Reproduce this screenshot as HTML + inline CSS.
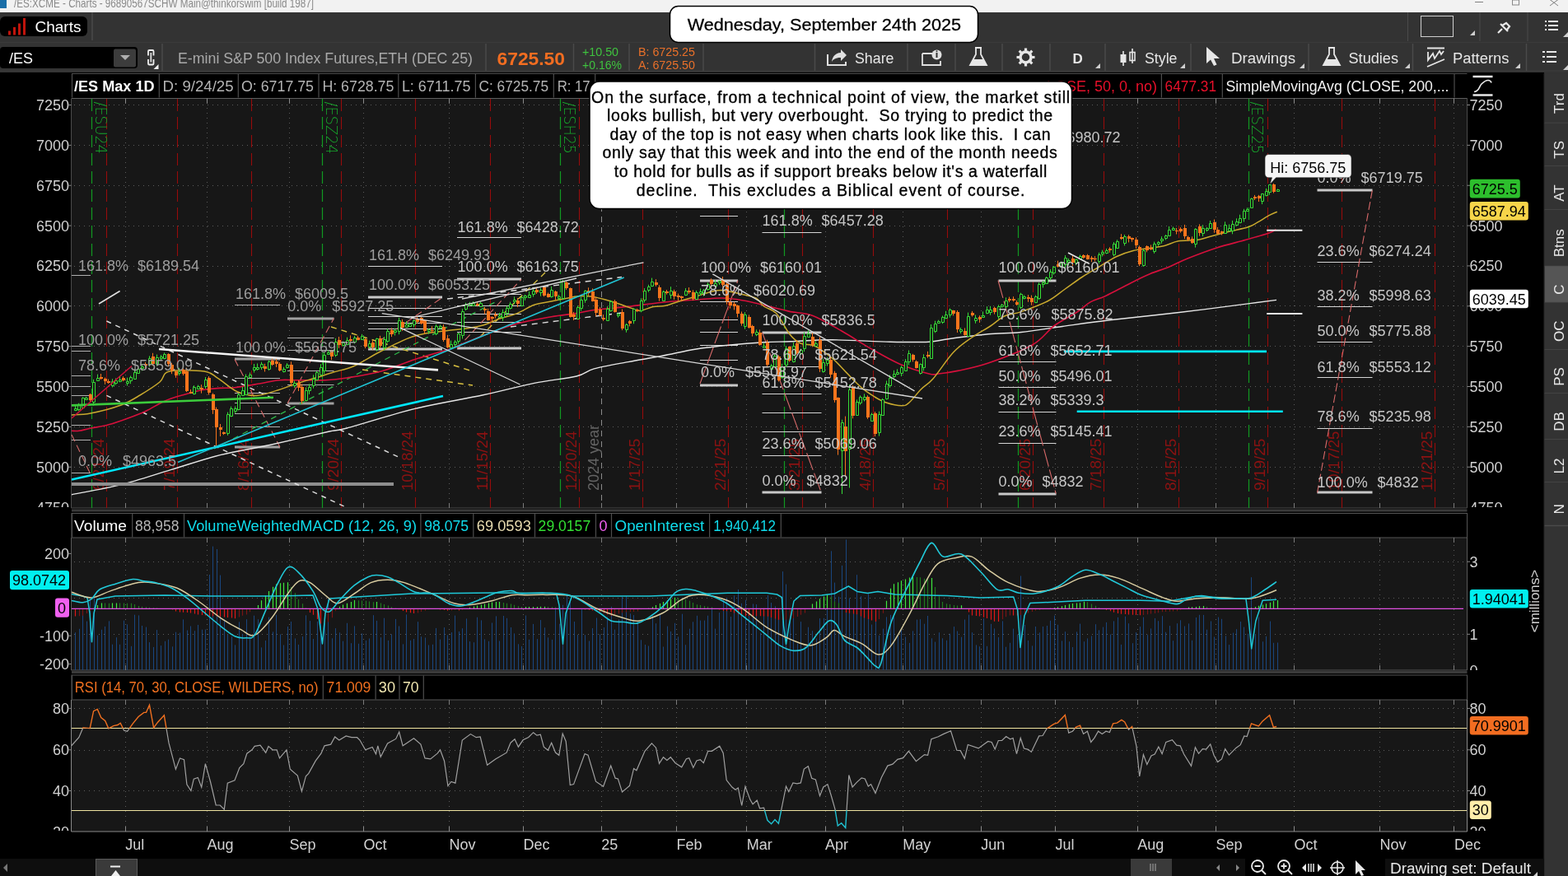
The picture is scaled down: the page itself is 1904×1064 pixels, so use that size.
<!DOCTYPE html>
<html><head><meta charset="utf-8"><title>thinkorswim chart</title>
<style>html,body{margin:0;padding:0;background:#333;overflow:hidden}svg{display:block}text{font-family:'Liberation Sans', Arial, sans-serif}</style>
</head><body>
<svg width="1904" height="1064" viewBox="0 0 1904 1064" font-family="'Liberation Sans', Arial, sans-serif">
<defs>
<clipPath id="cmain"><rect x="87" y="120" width="1694.5" height="497"/></clipPath>
<clipPath id="cmacd"><rect x="87" y="653" width="1694.5" height="161"/></clipPath>
<clipPath id="crsi"><rect x="87" y="850" width="1694.5" height="160"/></clipPath>
</defs>
<rect x="0" y="0" width="1904" height="1064" fill="#333333" />
<rect x="0" y="0" width="1904" height="15" fill="#f2f2f2" />
<rect x="0" y="0" width="8" height="10" fill="#1a6fa8" />
<text x="17" y="8.5" font-size="15" fill="#8a8a8a" textLength="364" lengthAdjust="spacingAndGlyphs" >/ES:XCME - Charts - 96890567SCHW Main@thinkorswim [build 1987]</text>
<line x1="1791" y1="2.5" x2="1801" y2="2.5" stroke="#808080" stroke-width="1" />
<rect x="1836.5" y="0" width="8" height="6" fill="none" stroke="#888" stroke-width="1"/>
<path d="M1882 -0.5 L1892 7 M1892 -0.5 L1882 7" stroke="#808080" stroke-width="1"/>
<rect x="0" y="15" width="1904" height="37" fill="#333333" />
<rect x="0" y="51" width="1904" height="1.2" fill="#3a3a3a" />
<rect x="0" y="52" width="1904" height="37" fill="#333333" />
<rect x="0" y="85" width="1904" height="2" fill="#383838" />
<rect x="0" y="20" width="106" height="24" rx="6" fill="#000"/>
<path d="M11.5 42.5 v-5 M17.5 42.5 v-9.5 M23.5 42.5 v-14 M29.5 42.5 v-20.5" stroke="#c0140c" stroke-width="3"/>
<text x="42.5" y="39" font-size="19" fill="#ffffff" >Charts</text>
<line x1="112" y1="15" x2="112" y2="49" stroke="#4a4a4a" stroke-width="1.5" />
<line x1="1709.5" y1="15" x2="1709.5" y2="50" stroke="#4a4a4a" stroke-width="1" />
<rect x="1725.5" y="19.5" width="39" height="25" fill="none" stroke="#cfcfcf" stroke-width="1"/>
<path d="M1785 43 L1791 37 L1791 43 Z" fill="#cfcfcf"/>
<line x1="1797" y1="15" x2="1797" y2="50" stroke="#4a4a4a" stroke-width="1" />
<path d="M1819 40 L1824 35 M1822 29 L1831 38 M1824 31 L1829 28 L1833 32 L1830 36" stroke="#e8e8e8" stroke-width="2.2" fill="none"/>
<line x1="1855" y1="15" x2="1855" y2="50" stroke="#4a4a4a" stroke-width="1" />
<path d="M1876 26h2 M1880 26h12 M1876 31h2 M1880 31h12 M1876 36h2 M1880 36h12" stroke="#e8e8e8" stroke-width="2"/>
<path d="M1898 45 L1904 39 L1904 45 Z" fill="#cfcfcf"/>
<rect x="0" y="57" width="167" height="26" rx="4" fill="#000"/>
<text x="11" y="77" font-size="18" fill="#ffffff" >/ES</text>
<rect x="138" y="59.5" width="27" height="22" rx="2" fill="#3c3c3c"/>
<path d="M146 67 L158 67 L152 73 Z" fill="#b0b0b0"/>
<path d="M180 67.5 V62.3 Q180 61 181.3 61 H185.2 Q186.5 61 186.5 62.3 V67.5 M180 72 V77.2 Q180 78.5 181.3 78.5 H185.2 Q186.5 78.5 186.5 77.2 V72" fill="none" stroke="#f0f0f0" stroke-width="1.8"/><path d="M183.3 64 V75.5" stroke="#e0e0e0" stroke-width="1.8"/>
<path d="M186.5 84 L192.5 78 L192.5 84 Z" fill="#f0f0f0"/>
<line x1="197" y1="53" x2="197" y2="86" stroke="#4a4a4a" stroke-width="1.5" />
<text x="216" y="77" font-size="18" fill="#a9a9a9" textLength="358" lengthAdjust="spacingAndGlyphs" >E-mini S&amp;P 500 Index Futures,ETH (DEC 25)</text>
<line x1="590" y1="53" x2="590" y2="86" stroke="#4a4a4a" stroke-width="1.5" />
<text x="603.5" y="78.5" font-size="22.5" fill="#f26d21" font-weight="bold" textLength="82.5" lengthAdjust="spacingAndGlyphs" >6725.50</text>
<line x1="696.5" y1="53" x2="696.5" y2="86" stroke="#4a4a4a" stroke-width="1.5" />
<text x="707" y="68" font-size="14.5" fill="#3fc23f" textLength="44" lengthAdjust="spacingAndGlyphs" >+10.50</text>
<text x="707" y="83.5" font-size="14.5" fill="#3fc23f" textLength="48" lengthAdjust="spacingAndGlyphs" >+0.16%</text>
<line x1="764" y1="53" x2="764" y2="86" stroke="#4a4a4a" stroke-width="1.5" />
<text x="775" y="68" font-size="14.5" fill="#e8702a" textLength="69" lengthAdjust="spacingAndGlyphs" >B: 6725.25</text>
<text x="775" y="83.5" font-size="14.5" fill="#e8702a" textLength="69" lengthAdjust="spacingAndGlyphs" >A: 6725.50</text>
<line x1="854" y1="53" x2="854" y2="86" stroke="#4a4a4a" stroke-width="1.5" />
<line x1="989.5" y1="53" x2="989.5" y2="86" stroke="#4a4a4a" stroke-width="1.5" />
<path d="M1005 66 v13 h22 v-4" fill="none" stroke="#e0e0e0" stroke-width="2"/>
<path d="M1010 75 C1011 67 1016 64 1021 64 v-4 l7 7 l-7 7 v-4 C1016 70 1012 71 1010 75 Z" fill="#e0e0e0"/>
<text x="1038" y="77" font-size="18" fill="#e6e6e6" textLength="47.5" lengthAdjust="spacingAndGlyphs" >Share</text>
<line x1="1102" y1="53" x2="1102" y2="86" stroke="#4a4a4a" stroke-width="1.5" />
<path d="M1120 65 h14 M1120 65 v14 h22 v-5" fill="none" stroke="#e0e0e0" stroke-width="1.8"/>
<circle cx="1137.5" cy="66.5" r="6" fill="#e0e0e0"/><path d="M1137.5 64 v6" stroke="#333" stroke-width="2"/><circle cx="1137.5" cy="62.3" r="1" fill="#333"/>
<line x1="1160" y1="53" x2="1160" y2="86" stroke="#4a4a4a" stroke-width="1.5" />
<path d="M1184 58 h8 M1185 58 v8 L1178 79 h20 L1191 66 v-8" fill="none" stroke="#e6e6e6" stroke-width="1.8"/><path d="M1181.5 72 L1178 80 h20 L1194.5 72 Z" fill="#e6e6e6"/>
<line x1="1217" y1="53" x2="1217" y2="86" stroke="#4a4a4a" stroke-width="1.5" />
<path d="M1251.5 69.5 L1256.5 69.5 M1249.7 73.7 L1253.3 77.3 M1245.5 75.5 L1245.5 80.5 M1241.3 73.7 L1237.7 77.3 M1239.5 69.5 L1234.5 69.5 M1241.3 65.3 L1237.7 61.7 M1245.5 63.5 L1245.5 58.5 M1249.7 65.3 L1253.3 61.7" stroke="#e6e6e6" stroke-width="3.2"/>
<circle cx="1245.5" cy="69.5" r="6.5" fill="none" stroke="#e6e6e6" stroke-width="3.5"/>
<line x1="1275" y1="53" x2="1275" y2="86" stroke="#4a4a4a" stroke-width="1.5" />
<text x="1302.5" y="76.5" font-size="17" fill="#e6e6e6" font-weight="bold" >D</text>
<path d="M1330 83 L1336 77 L1336 83 Z" fill="#cfcfcf"/>
<line x1="1342" y1="53" x2="1342" y2="86" stroke="#4a4a4a" stroke-width="1.5" />
<path d="M1364 62 v18 M1375 59 v18" stroke="#e6e6e6" stroke-width="1.6"/><rect x="1360.5" y="66" width="7" height="10" fill="#e6e6e6"/><rect x="1372" y="63.5" width="6" height="10" fill="none" stroke="#e6e6e6" stroke-width="1.6"/>
<text x="1390" y="77" font-size="18" fill="#e6e6e6" textLength="39.5" lengthAdjust="spacingAndGlyphs" >Style</text>
<path d="M1433 83 L1439 77 L1439 83 Z" fill="#cfcfcf"/>
<line x1="1446" y1="53" x2="1446" y2="86" stroke="#4a4a4a" stroke-width="1.5" />
<path d="M1465 57 L1465 77 L1470 72.5 L1474 80 L1477.5 78.5 L1474 71 L1481 71 Z" fill="#e6e6e6"/>
<text x="1495" y="77" font-size="18" fill="#e6e6e6" textLength="78" lengthAdjust="spacingAndGlyphs" >Drawings</text>
<path d="M1578 83 L1584 77 L1584 83 Z" fill="#cfcfcf"/>
<line x1="1589" y1="53" x2="1589" y2="86" stroke="#4a4a4a" stroke-width="1.5" />
<path d="M1613 58 h8 M1614 58 v8 L1607 79 h20 L1620 66 v-8" fill="none" stroke="#e6e6e6" stroke-width="1.8"/><path d="M1610.5 72 L1607 80 h20 L1623.5 72 Z" fill="#e6e6e6"/>
<text x="1637.5" y="77" font-size="18" fill="#e6e6e6" textLength="60.5" lengthAdjust="spacingAndGlyphs" >Studies</text>
<path d="M1706 83 L1712 77 L1712 83 Z" fill="#cfcfcf"/>
<line x1="1715.5" y1="53" x2="1715.5" y2="86" stroke="#4a4a4a" stroke-width="1.5" />
<path d="M1733 58.5 h21 M1734 63 v10 l6 -8 l2 6 l6 -9 l2 4 l3 -4 M1733 81 l21 -9" fill="none" stroke="#e6e6e6" stroke-width="1.8"/>
<text x="1764" y="77" font-size="18" fill="#e6e6e6" textLength="68.5" lengthAdjust="spacingAndGlyphs" >Patterns</text>
<path d="M1840 83 L1846 77 L1846 83 Z" fill="#cfcfcf"/>
<line x1="1853.5" y1="53" x2="1853.5" y2="86" stroke="#4a4a4a" stroke-width="1.5" />
<path d="M1873 63h3 M1878 63h12 M1873 69h3 M1878 69h12 M1873 75h3 M1878 75h12" stroke="#e8e8e8" stroke-width="2"/>
<path d="M1898 85 L1904 79 L1904 85 Z" fill="#cfcfcf"/>
<rect x="0" y="88" width="1875" height="976" fill="#000000" />
<rect x="1875" y="88" width="29" height="976" fill="#333333" />
<rect x="1875.5" y="89.5" width="29" height="60.0" fill="#333333" />
<line x1="1875" y1="149.5" x2="1904" y2="149.5" stroke="#4a4a4a" stroke-width="1.5" />
<text x="1898.5" y="125.5" font-size="17" fill="#e8e8e8" text-anchor="middle" transform="rotate(-90 1898.5 125.5)">Trd</text>
<rect x="1875.5" y="149.5" width="29" height="52.5" fill="#333333" />
<line x1="1875" y1="202" x2="1904" y2="202" stroke="#4a4a4a" stroke-width="1.5" />
<text x="1898.5" y="181.75" font-size="17" fill="#e8e8e8" text-anchor="middle" transform="rotate(-90 1898.5 181.75)">TS</text>
<rect x="1875.5" y="202" width="29" height="53" fill="#333333" />
<line x1="1875" y1="255" x2="1904" y2="255" stroke="#4a4a4a" stroke-width="1.5" />
<text x="1898.5" y="234.5" font-size="17" fill="#e8e8e8" text-anchor="middle" transform="rotate(-90 1898.5 234.5)">AT</text>
<rect x="1875.5" y="255" width="29" height="68.5" fill="#333333" />
<line x1="1875" y1="323.5" x2="1904" y2="323.5" stroke="#4a4a4a" stroke-width="1.5" />
<text x="1898.5" y="295.25" font-size="17" fill="#e8e8e8" text-anchor="middle" transform="rotate(-90 1898.5 295.25)">Btns</text>
<rect x="1875.5" y="323.5" width="29" height="44.0" fill="#555555" />
<line x1="1875" y1="367.5" x2="1904" y2="367.5" stroke="#4a4a4a" stroke-width="1.5" />
<text x="1898.5" y="351.5" font-size="17" fill="#e8e8e8" text-anchor="middle" transform="rotate(-90 1898.5 351.5)">C</text>
<rect x="1875.5" y="367.5" width="29" height="57.5" fill="#333333" />
<line x1="1875" y1="425" x2="1904" y2="425" stroke="#4a4a4a" stroke-width="1.5" />
<text x="1898.5" y="402.25" font-size="17" fill="#e8e8e8" text-anchor="middle" transform="rotate(-90 1898.5 402.25)">OC</text>
<rect x="1875.5" y="425" width="29" height="53" fill="#333333" />
<line x1="1875" y1="478" x2="1904" y2="478" stroke="#4a4a4a" stroke-width="1.5" />
<text x="1898.5" y="457.5" font-size="17" fill="#e8e8e8" text-anchor="middle" transform="rotate(-90 1898.5 457.5)">PS</text>
<rect x="1875.5" y="478" width="29" height="56" fill="#333333" />
<line x1="1875" y1="534" x2="1904" y2="534" stroke="#4a4a4a" stroke-width="1.5" />
<text x="1898.5" y="512.0" font-size="17" fill="#e8e8e8" text-anchor="middle" transform="rotate(-90 1898.5 512.0)">DB</text>
<rect x="1875.5" y="534" width="29" height="52" fill="#333333" />
<line x1="1875" y1="586" x2="1904" y2="586" stroke="#4a4a4a" stroke-width="1.5" />
<text x="1898.5" y="566.0" font-size="17" fill="#e8e8e8" text-anchor="middle" transform="rotate(-90 1898.5 566.0)">L2</text>
<rect x="1875.5" y="586" width="29" height="52.5" fill="#333333" />
<line x1="1875" y1="638.5" x2="1904" y2="638.5" stroke="#4a4a4a" stroke-width="1.5" />
<text x="1898.5" y="618.25" font-size="17" fill="#e8e8e8" text-anchor="middle" transform="rotate(-90 1898.5 618.25)">N</text>
<line x1="1875" y1="89" x2="1875" y2="1064" stroke="#262626" stroke-width="1" />
<rect x="87" y="119.5" width="1694.5" height="497.5" fill="#171717" />
<rect x="87" y="653" width="1694.5" height="161" fill="#171717" />
<rect x="87" y="850" width="1694.5" height="160" fill="#171717" />
<path d="M86.5 119.5 V617 H1781.5 V119.5" fill="none" stroke="#4b4b4b" stroke-width="1"/>
<line x1="87" y1="119.5" x2="1781.5" y2="119.5" stroke="#5e5e5e" stroke-width="1" />
<rect x="87" y="618.5" width="1694.5" height="3" fill="#3a3a3a" />
<rect x="87" y="815" width="1694.5" height="3" fill="#3a3a3a" />
<rect x="87" y="623.5" width="1694.5" height="29.5" fill="#000" />
<rect x="87" y="623.5" width="1694.5" height="29.5" fill="none" stroke="#555" stroke-width="1"/>
<rect x="87" y="820" width="1694.5" height="30" fill="#000" />
<rect x="87" y="820" width="1694.5" height="30" fill="none" stroke="#555" stroke-width="1"/>
<path d="M86.5 653 V814 H1781.5 V653" fill="none" stroke="#5a5a5a" stroke-width="1"/>
<path d="M86.5 850 V1010 H1781.5 V850" fill="none" stroke="#8a8a8a" stroke-width="1"/>
<rect x="87" y="89.5" width="1694.5" height="29.5" fill="#000" />
<line x1="87.5" y1="89.5" x2="87.5" y2="118.5" stroke="#4d4d4d" stroke-width="1.2" />
<line x1="193.3" y1="89.5" x2="193.3" y2="118.5" stroke="#4d4d4d" stroke-width="1.2" />
<line x1="289.3" y1="89.5" x2="289.3" y2="118.5" stroke="#4d4d4d" stroke-width="1.2" />
<line x1="387" y1="89.5" x2="387" y2="118.5" stroke="#4d4d4d" stroke-width="1.2" />
<line x1="483.8" y1="89.5" x2="483.8" y2="118.5" stroke="#4d4d4d" stroke-width="1.2" />
<line x1="577.4" y1="89.5" x2="577.4" y2="118.5" stroke="#4d4d4d" stroke-width="1.2" />
<line x1="672.3" y1="89.5" x2="672.3" y2="118.5" stroke="#4d4d4d" stroke-width="1.2" />
<line x1="722.7" y1="89.5" x2="722.7" y2="118.5" stroke="#4d4d4d" stroke-width="1.2" />
<line x1="1410.4" y1="89.5" x2="1410.4" y2="118.5" stroke="#4d4d4d" stroke-width="1.2" />
<line x1="1484.3" y1="89.5" x2="1484.3" y2="118.5" stroke="#4d4d4d" stroke-width="1.2" />
<line x1="1766" y1="89.5" x2="1766" y2="118.5" stroke="#4d4d4d" stroke-width="1.2" />
<line x1="87" y1="89.5" x2="1781.5" y2="89.5" stroke="#4d4d4d" stroke-width="1" />
<text x="90" y="110.5" font-size="18" fill="#ffffff" font-weight="bold" textLength="97.5" lengthAdjust="spacingAndGlyphs" >/ES Max 1D</text>
<text x="197.6" y="110.5" font-size="18" fill="#b4b4b4" textLength="86" lengthAdjust="spacingAndGlyphs" >D: 9/24/25</text>
<text x="293" y="110.5" font-size="18" fill="#b4b4b4" textLength="88" lengthAdjust="spacingAndGlyphs" >O: 6717.75</text>
<text x="391.4" y="110.5" font-size="18" fill="#b4b4b4" textLength="87" lengthAdjust="spacingAndGlyphs" >H: 6728.75</text>
<text x="487.9" y="110.5" font-size="18" fill="#b4b4b4" textLength="83.5" lengthAdjust="spacingAndGlyphs" >L: 6711.75</text>
<text x="581.5" y="110.5" font-size="18" fill="#b4b4b4" textLength="84.5" lengthAdjust="spacingAndGlyphs" >C: 6725.75</text>
<text x="676.7" y="110.5" font-size="18" fill="#b4b4b4" textLength="40" lengthAdjust="spacingAndGlyphs" >R: 17</text>
<text x="1405" y="110.5" font-size="18" fill="#e8102a" text-anchor="end" >LOSE, 50, 0, no)</text>
<text x="1414.6" y="110.5" font-size="18" fill="#e8102a" textLength="62.5" lengthAdjust="spacingAndGlyphs" >6477.31</text>
<text x="1488.5" y="110.5" font-size="18" fill="#f2f2f2" textLength="271" lengthAdjust="spacingAndGlyphs" >SimpleMovingAvg (CLOSE, 200,...</text>
<path d="M1788.5 93 h24 M1788.5 115.5 h24" stroke="#e8e8e8" stroke-width="2.6"/><path d="M1790 111.5 C1796 111.5 1796 105 1799 102 C1802 99 1804 97.5 1807 97.5 C1809 97.5 1810.5 99 1811 100.5" fill="none" stroke="#e8e8e8" stroke-width="1.7"/>
<line x1="90" y1="127.5" x2="1781" y2="127.5" stroke="#5c5c5c" stroke-width="1" stroke-dasharray="1 5"/>
<line x1="90" y1="176.5" x2="1781" y2="176.5" stroke="#5c5c5c" stroke-width="1" stroke-dasharray="1 5"/>
<line x1="90" y1="225.5" x2="1781" y2="225.5" stroke="#5c5c5c" stroke-width="1" stroke-dasharray="1 5"/>
<line x1="90" y1="274.5" x2="1781" y2="274.5" stroke="#5c5c5c" stroke-width="1" stroke-dasharray="1 5"/>
<line x1="90" y1="323.5" x2="1781" y2="323.5" stroke="#5c5c5c" stroke-width="1" stroke-dasharray="1 5"/>
<line x1="90" y1="371.5" x2="1781" y2="371.5" stroke="#5c5c5c" stroke-width="1" stroke-dasharray="1 5"/>
<line x1="90" y1="420.5" x2="1781" y2="420.5" stroke="#5c5c5c" stroke-width="1" stroke-dasharray="1 5"/>
<line x1="90" y1="469.5" x2="1781" y2="469.5" stroke="#5c5c5c" stroke-width="1" stroke-dasharray="1 5"/>
<line x1="90" y1="518.5" x2="1781" y2="518.5" stroke="#5c5c5c" stroke-width="1" stroke-dasharray="1 5"/>
<line x1="90" y1="567.5" x2="1781" y2="567.5" stroke="#5c5c5c" stroke-width="1" stroke-dasharray="1 5"/>
<line x1="152.5" y1="125" x2="152.5" y2="617" stroke="#5c5c5c" stroke-width="1" stroke-dasharray="1 5"/>
<line x1="152.5" y1="119.5" x2="152.5" y2="125.5" stroke="#8a8a8a" stroke-width="1" />
<line x1="251.5" y1="125" x2="251.5" y2="617" stroke="#5c5c5c" stroke-width="1" stroke-dasharray="1 5"/>
<line x1="251.5" y1="119.5" x2="251.5" y2="125.5" stroke="#8a8a8a" stroke-width="1" />
<line x1="351.5" y1="125" x2="351.5" y2="617" stroke="#5c5c5c" stroke-width="1" stroke-dasharray="1 5"/>
<line x1="351.5" y1="119.5" x2="351.5" y2="125.5" stroke="#8a8a8a" stroke-width="1" />
<line x1="441.5" y1="125" x2="441.5" y2="617" stroke="#5c5c5c" stroke-width="1" stroke-dasharray="1 5"/>
<line x1="441.5" y1="119.5" x2="441.5" y2="125.5" stroke="#8a8a8a" stroke-width="1" />
<line x1="545.5" y1="125" x2="545.5" y2="617" stroke="#5c5c5c" stroke-width="1" stroke-dasharray="1 5"/>
<line x1="545.5" y1="119.5" x2="545.5" y2="125.5" stroke="#8a8a8a" stroke-width="1" />
<line x1="635.5" y1="125" x2="635.5" y2="617" stroke="#5c5c5c" stroke-width="1" stroke-dasharray="1 5"/>
<line x1="635.5" y1="119.5" x2="635.5" y2="125.5" stroke="#8a8a8a" stroke-width="1" />
<line x1="730.5" y1="120" x2="730.5" y2="617" stroke="#8a8a8a" stroke-width="1" stroke-dasharray="7 6"/>
<line x1="730.5" y1="119.5" x2="730.5" y2="125.5" stroke="#8a8a8a" stroke-width="1" />
<line x1="821.5" y1="125" x2="821.5" y2="617" stroke="#5c5c5c" stroke-width="1" stroke-dasharray="1 5"/>
<line x1="821.5" y1="119.5" x2="821.5" y2="125.5" stroke="#8a8a8a" stroke-width="1" />
<line x1="906.5" y1="125" x2="906.5" y2="617" stroke="#5c5c5c" stroke-width="1" stroke-dasharray="1 5"/>
<line x1="906.5" y1="119.5" x2="906.5" y2="125.5" stroke="#8a8a8a" stroke-width="1" />
<line x1="1002.5" y1="125" x2="1002.5" y2="617" stroke="#5c5c5c" stroke-width="1" stroke-dasharray="1 5"/>
<line x1="1002.5" y1="119.5" x2="1002.5" y2="125.5" stroke="#8a8a8a" stroke-width="1" />
<line x1="1096.5" y1="125" x2="1096.5" y2="617" stroke="#5c5c5c" stroke-width="1" stroke-dasharray="1 5"/>
<line x1="1096.5" y1="119.5" x2="1096.5" y2="125.5" stroke="#8a8a8a" stroke-width="1" />
<line x1="1191.5" y1="125" x2="1191.5" y2="617" stroke="#5c5c5c" stroke-width="1" stroke-dasharray="1 5"/>
<line x1="1191.5" y1="119.5" x2="1191.5" y2="125.5" stroke="#8a8a8a" stroke-width="1" />
<line x1="1281.5" y1="125" x2="1281.5" y2="617" stroke="#5c5c5c" stroke-width="1" stroke-dasharray="1 5"/>
<line x1="1281.5" y1="119.5" x2="1281.5" y2="125.5" stroke="#8a8a8a" stroke-width="1" />
<line x1="1381.5" y1="125" x2="1381.5" y2="617" stroke="#5c5c5c" stroke-width="1" stroke-dasharray="1 5"/>
<line x1="1381.5" y1="119.5" x2="1381.5" y2="125.5" stroke="#8a8a8a" stroke-width="1" />
<line x1="1476.5" y1="125" x2="1476.5" y2="617" stroke="#5c5c5c" stroke-width="1" stroke-dasharray="1 5"/>
<line x1="1476.5" y1="119.5" x2="1476.5" y2="125.5" stroke="#8a8a8a" stroke-width="1" />
<line x1="1571.5" y1="125" x2="1571.5" y2="617" stroke="#5c5c5c" stroke-width="1" stroke-dasharray="1 5"/>
<line x1="1571.5" y1="119.5" x2="1571.5" y2="125.5" stroke="#8a8a8a" stroke-width="1" />
<line x1="1675.5" y1="125" x2="1675.5" y2="617" stroke="#5c5c5c" stroke-width="1" stroke-dasharray="1 5"/>
<line x1="1675.5" y1="119.5" x2="1675.5" y2="125.5" stroke="#8a8a8a" stroke-width="1" />
<line x1="1765.5" y1="125" x2="1765.5" y2="617" stroke="#5c5c5c" stroke-width="1" stroke-dasharray="1 5"/>
<line x1="1765.5" y1="119.5" x2="1765.5" y2="125.5" stroke="#8a8a8a" stroke-width="1" />
<line x1="129.5" y1="120" x2="129.5" y2="617" stroke="#960c0c" stroke-width="1.1" stroke-dasharray="15 7"/>
<line x1="215.5" y1="120" x2="215.5" y2="617" stroke="#960c0c" stroke-width="1.1" stroke-dasharray="15 7"/>
<line x1="305.5" y1="120" x2="305.5" y2="617" stroke="#960c0c" stroke-width="1.1" stroke-dasharray="15 7"/>
<line x1="414.5" y1="120" x2="414.5" y2="617" stroke="#960c0c" stroke-width="1.1" stroke-dasharray="15 7"/>
<line x1="504.5" y1="120" x2="504.5" y2="617" stroke="#960c0c" stroke-width="1.1" stroke-dasharray="15 7"/>
<line x1="595.5" y1="120" x2="595.5" y2="617" stroke="#960c0c" stroke-width="1.1" stroke-dasharray="15 7"/>
<line x1="703.5" y1="120" x2="703.5" y2="617" stroke="#960c0c" stroke-width="1.1" stroke-dasharray="15 7"/>
<line x1="780.5" y1="120" x2="780.5" y2="617" stroke="#960c0c" stroke-width="1.1" stroke-dasharray="15 7"/>
<line x1="884.5" y1="120" x2="884.5" y2="617" stroke="#960c0c" stroke-width="1.1" stroke-dasharray="15 7"/>
<line x1="974.5" y1="120" x2="974.5" y2="617" stroke="#960c0c" stroke-width="1.1" stroke-dasharray="15 7"/>
<line x1="1060.5" y1="120" x2="1060.5" y2="617" stroke="#960c0c" stroke-width="1.1" stroke-dasharray="15 7"/>
<line x1="1150.5" y1="120" x2="1150.5" y2="617" stroke="#960c0c" stroke-width="1.1" stroke-dasharray="15 7"/>
<line x1="1254.5" y1="120" x2="1254.5" y2="617" stroke="#960c0c" stroke-width="1.1" stroke-dasharray="15 7"/>
<line x1="1340.5" y1="120" x2="1340.5" y2="617" stroke="#960c0c" stroke-width="1.1" stroke-dasharray="15 7"/>
<line x1="1431.5" y1="120" x2="1431.5" y2="617" stroke="#960c0c" stroke-width="1.1" stroke-dasharray="15 7"/>
<line x1="1539.5" y1="120" x2="1539.5" y2="617" stroke="#960c0c" stroke-width="1.1" stroke-dasharray="15 7"/>
<line x1="1629.5" y1="120" x2="1629.5" y2="617" stroke="#960c0c" stroke-width="1.1" stroke-dasharray="15 7"/>
<line x1="1742.5" y1="120" x2="1742.5" y2="617" stroke="#960c0c" stroke-width="1.1" stroke-dasharray="15 7"/>
<line x1="111.5" y1="120" x2="111.5" y2="617" stroke="#129a22" stroke-width="1.2" stroke-dasharray="15 7"/>
<line x1="391.5" y1="120" x2="391.5" y2="617" stroke="#129a22" stroke-width="1.2" stroke-dasharray="15 7"/>
<line x1="680.5" y1="120" x2="680.5" y2="617" stroke="#129a22" stroke-width="1.2" stroke-dasharray="15 7"/>
<line x1="952.5" y1="120" x2="952.5" y2="617" stroke="#129a22" stroke-width="1.2" stroke-dasharray="15 7"/>
<line x1="1236.5" y1="120" x2="1236.5" y2="617" stroke="#129a22" stroke-width="1.2" stroke-dasharray="15 7"/>
<line x1="1516.5" y1="120" x2="1516.5" y2="617" stroke="#129a22" stroke-width="1.2" stroke-dasharray="15 7"/>
<text x="125.5" y="596" font-size="19" fill="#8c1212" textLength="63.35000000000001" lengthAdjust="spacingAndGlyphs" transform="rotate(-90 125.5 596)">6/21/24</text>
<text x="211.5" y="596" font-size="19" fill="#8c1212" textLength="63.35000000000001" lengthAdjust="spacingAndGlyphs" transform="rotate(-90 211.5 596)">7/19/24</text>
<text x="301.5" y="596" font-size="19" fill="#8c1212" textLength="63.35000000000001" lengthAdjust="spacingAndGlyphs" transform="rotate(-90 301.5 596)">8/16/24</text>
<text x="410.5" y="596" font-size="19" fill="#8c1212" textLength="63.35000000000001" lengthAdjust="spacingAndGlyphs" transform="rotate(-90 410.5 596)">9/20/24</text>
<text x="500.5" y="596" font-size="19" fill="#8c1212" textLength="72.4" lengthAdjust="spacingAndGlyphs" transform="rotate(-90 500.5 596)">10/18/24</text>
<text x="591.5" y="596" font-size="19" fill="#8c1212" textLength="72.4" lengthAdjust="spacingAndGlyphs" transform="rotate(-90 591.5 596)">11/15/24</text>
<text x="699.5" y="596" font-size="19" fill="#8c1212" textLength="72.4" lengthAdjust="spacingAndGlyphs" transform="rotate(-90 699.5 596)">12/20/24</text>
<text x="776.5" y="596" font-size="19" fill="#8c1212" textLength="63.35000000000001" lengthAdjust="spacingAndGlyphs" transform="rotate(-90 776.5 596)">1/17/25</text>
<text x="880.5" y="596" font-size="19" fill="#8c1212" textLength="63.35000000000001" lengthAdjust="spacingAndGlyphs" transform="rotate(-90 880.5 596)">2/21/25</text>
<text x="970.5" y="596" font-size="19" fill="#8c1212" textLength="63.35000000000001" lengthAdjust="spacingAndGlyphs" transform="rotate(-90 970.5 596)">3/21/25</text>
<text x="1056.5" y="596" font-size="19" fill="#8c1212" textLength="63.35000000000001" lengthAdjust="spacingAndGlyphs" transform="rotate(-90 1056.5 596)">4/18/25</text>
<text x="1146.5" y="596" font-size="19" fill="#8c1212" textLength="63.35000000000001" lengthAdjust="spacingAndGlyphs" transform="rotate(-90 1146.5 596)">5/16/25</text>
<text x="1250.5" y="596" font-size="19" fill="#8c1212" textLength="63.35000000000001" lengthAdjust="spacingAndGlyphs" transform="rotate(-90 1250.5 596)">6/20/25</text>
<text x="1336.5" y="596" font-size="19" fill="#8c1212" textLength="63.35000000000001" lengthAdjust="spacingAndGlyphs" transform="rotate(-90 1336.5 596)">7/18/25</text>
<text x="1427.5" y="596" font-size="19" fill="#8c1212" textLength="63.35000000000001" lengthAdjust="spacingAndGlyphs" transform="rotate(-90 1427.5 596)">8/15/25</text>
<text x="1535.5" y="596" font-size="19" fill="#8c1212" textLength="63.35000000000001" lengthAdjust="spacingAndGlyphs" transform="rotate(-90 1535.5 596)">9/19/25</text>
<text x="1625.5" y="596" font-size="19" fill="#8c1212" textLength="72.4" lengthAdjust="spacingAndGlyphs" transform="rotate(-90 1625.5 596)">10/17/25</text>
<text x="1738.5" y="596" font-size="19" fill="#8c1212" textLength="72.4" lengthAdjust="spacingAndGlyphs" transform="rotate(-90 1738.5 596)">11/21/25</text>
<text x="726.5" y="596" font-size="18.5" fill="#646464" textLength="80" lengthAdjust="spacingAndGlyphs" transform="rotate(-90 726.5 596)">2024 year</text>
<text x="115.5" y="123.5" font-size="19" fill="#17a82c" font-weight="200" textLength="63.5" lengthAdjust="spacingAndGlyphs" style="font-family:'DejaVu Sans', sans-serif" transform="rotate(90 115.5 123.5)">/ESU24</text>
<text x="395.5" y="123.5" font-size="19" fill="#17a82c" font-weight="200" textLength="63.5" lengthAdjust="spacingAndGlyphs" style="font-family:'DejaVu Sans', sans-serif" transform="rotate(90 395.5 123.5)">/ESZ24</text>
<text x="684.5" y="123.5" font-size="19" fill="#17a82c" font-weight="200" textLength="63.5" lengthAdjust="spacingAndGlyphs" style="font-family:'DejaVu Sans', sans-serif" transform="rotate(90 684.5 123.5)">/ESH25</text>
<text x="955.5" y="123.5" font-size="19" fill="#17a82c" font-weight="200" textLength="63.5" lengthAdjust="spacingAndGlyphs" style="font-family:'DejaVu Sans', sans-serif" transform="rotate(90 955.5 123.5)">/ESM25</text>
<text x="1239.5" y="123.5" font-size="19" fill="#17a82c" font-weight="200" textLength="63.5" lengthAdjust="spacingAndGlyphs" style="font-family:'DejaVu Sans', sans-serif" transform="rotate(90 1239.5 123.5)">/ESU25</text>
<text x="1519.5" y="123.5" font-size="19" fill="#17a82c" font-weight="200" textLength="63.5" lengthAdjust="spacingAndGlyphs" style="font-family:'DejaVu Sans', sans-serif" transform="rotate(90 1519.5 123.5)">/ESZ25</text>
<line x1="87" y1="334.5" x2="110" y2="334.5" stroke="#b0b0b0" stroke-width="1" />
<line x1="87" y1="420.5" x2="110" y2="420.5" stroke="#b0b0b0" stroke-width="1" />
<line x1="87" y1="426.5" x2="110" y2="426.5" stroke="#b0b0b0" stroke-width="1" />
<line x1="87" y1="456.5" x2="110" y2="456.5" stroke="#b0b0b0" stroke-width="1" />
<line x1="87" y1="469.5" x2="110" y2="469.5" stroke="#b0b0b0" stroke-width="1" />
<line x1="87" y1="480.5" x2="110" y2="480.5" stroke="#b0b0b0" stroke-width="1" />
<line x1="87" y1="516.5" x2="110" y2="516.5" stroke="#b0b0b0" stroke-width="1" />
<line x1="87" y1="534.5" x2="110" y2="534.5" stroke="#b0b0b0" stroke-width="1" />
<line x1="87" y1="574.5" x2="110" y2="574.5" stroke="#b0b0b0" stroke-width="1" />
<line x1="285" y1="370.5" x2="340" y2="370.5" stroke="#b0b0b0" stroke-width="1" />
<line x1="285" y1="436" x2="340" y2="436" stroke="#a0a0a0" stroke-width="3" />
<line x1="285" y1="459.5" x2="340" y2="459.5" stroke="#b0b0b0" stroke-width="1" />
<line x1="285" y1="477.5" x2="340" y2="477.5" stroke="#b0b0b0" stroke-width="1" />
<line x1="285" y1="489.5" x2="340" y2="489.5" stroke="#b0b0b0" stroke-width="1" />
<line x1="285" y1="502.5" x2="340" y2="502.5" stroke="#b0b0b0" stroke-width="1" />
<line x1="285" y1="518.5" x2="340" y2="518.5" stroke="#b0b0b0" stroke-width="1" />
<line x1="285" y1="543" x2="340" y2="543" stroke="#a0a0a0" stroke-width="3" />
<line x1="349" y1="387" x2="405.5" y2="387" stroke="#a0a0a0" stroke-width="3" />
<line x1="349" y1="410.5" x2="405.5" y2="410.5" stroke="#b0b0b0" stroke-width="1" />
<line x1="349" y1="425.5" x2="405.5" y2="425.5" stroke="#b0b0b0" stroke-width="1" />
<line x1="349" y1="450.5" x2="405.5" y2="450.5" stroke="#b0b0b0" stroke-width="1" />
<line x1="349" y1="467.5" x2="405.5" y2="467.5" stroke="#b0b0b0" stroke-width="1" />
<line x1="349" y1="490" x2="405.5" y2="490" stroke="#a0a0a0" stroke-width="3" />
<line x1="447" y1="323.5" x2="537" y2="323.5" stroke="#d4d4d4" stroke-width="1" />
<line x1="447" y1="361" x2="537" y2="361" stroke="#c8c8c8" stroke-width="3" />
<line x1="447" y1="374.5" x2="537" y2="374.5" stroke="#d4d4d4" stroke-width="1" />
<line x1="447" y1="384.5" x2="537" y2="384.5" stroke="#d4d4d4" stroke-width="1" />
<line x1="447" y1="392.5" x2="537" y2="392.5" stroke="#d4d4d4" stroke-width="1" />
<line x1="447" y1="399.5" x2="537" y2="399.5" stroke="#d4d4d4" stroke-width="1" />
<line x1="447" y1="424" x2="537" y2="424" stroke="#c8c8c8" stroke-width="3" />
<line x1="555" y1="288.5" x2="633" y2="288.5" stroke="#d4d4d4" stroke-width="1" />
<line x1="555" y1="339" x2="633" y2="339" stroke="#c8c8c8" stroke-width="3" />
<line x1="555" y1="357.5" x2="633" y2="357.5" stroke="#d4d4d4" stroke-width="1" />
<line x1="555" y1="371.5" x2="633" y2="371.5" stroke="#d4d4d4" stroke-width="1" />
<line x1="555" y1="381.5" x2="633" y2="381.5" stroke="#d4d4d4" stroke-width="1" />
<line x1="555" y1="391.5" x2="633" y2="391.5" stroke="#d4d4d4" stroke-width="1" />
<line x1="555" y1="403.5" x2="633" y2="403.5" stroke="#d4d4d4" stroke-width="1" />
<line x1="555" y1="423" x2="633" y2="423" stroke="#c8c8c8" stroke-width="3" />
<line x1="850" y1="262.5" x2="896" y2="262.5" stroke="#d4d4d4" stroke-width="1" />
<line x1="850" y1="341" x2="896" y2="341" stroke="#c8c8c8" stroke-width="3" />
<line x1="850" y1="366.5" x2="896" y2="366.5" stroke="#d4d4d4" stroke-width="1" />
<line x1="850" y1="388.5" x2="896" y2="388.5" stroke="#d4d4d4" stroke-width="1" />
<line x1="850" y1="403.5" x2="896" y2="403.5" stroke="#d4d4d4" stroke-width="1" />
<line x1="850" y1="419.5" x2="896" y2="419.5" stroke="#d4d4d4" stroke-width="1" />
<line x1="850" y1="437.5" x2="896" y2="437.5" stroke="#d4d4d4" stroke-width="1" />
<line x1="850" y1="468" x2="896" y2="468" stroke="#c8c8c8" stroke-width="3" />
<line x1="925.5" y1="282.5" x2="997.5" y2="282.5" stroke="#d4d4d4" stroke-width="1" />
<line x1="925.5" y1="404" x2="997.5" y2="404" stroke="#c8c8c8" stroke-width="3" />
<line x1="925.5" y1="445.5" x2="997.5" y2="445.5" stroke="#d4d4d4" stroke-width="1" />
<line x1="925.5" y1="478.5" x2="997.5" y2="478.5" stroke="#d4d4d4" stroke-width="1" />
<line x1="925.5" y1="501.5" x2="997.5" y2="501.5" stroke="#d4d4d4" stroke-width="1" />
<line x1="925.5" y1="524.5" x2="997.5" y2="524.5" stroke="#d4d4d4" stroke-width="1" />
<line x1="925.5" y1="553.5" x2="997.5" y2="553.5" stroke="#d4d4d4" stroke-width="1" />
<line x1="925.5" y1="598" x2="997.5" y2="598" stroke="#c8c8c8" stroke-width="3" />
<line x1="1212.5" y1="341" x2="1282.5" y2="341" stroke="#c8c8c8" stroke-width="3" />
<line x1="1212.5" y1="396.5" x2="1282.5" y2="396.5" stroke="#d4d4d4" stroke-width="1" />
<line x1="1212.5" y1="439.5" x2="1282.5" y2="439.5" stroke="#d4d4d4" stroke-width="1" />
<line x1="1212.5" y1="470.5" x2="1282.5" y2="470.5" stroke="#d4d4d4" stroke-width="1" />
<line x1="1212.5" y1="500.5" x2="1282.5" y2="500.5" stroke="#d4d4d4" stroke-width="1" />
<line x1="1212.5" y1="538.5" x2="1282.5" y2="538.5" stroke="#d4d4d4" stroke-width="1" />
<line x1="1212.5" y1="600" x2="1282.5" y2="600" stroke="#c8c8c8" stroke-width="3" />
<line x1="1599.5" y1="231" x2="1666.5" y2="231" stroke="#c8c8c8" stroke-width="3" />
<line x1="1599.5" y1="318.5" x2="1666.5" y2="318.5" stroke="#d4d4d4" stroke-width="1" />
<line x1="1599.5" y1="372.5" x2="1666.5" y2="372.5" stroke="#d4d4d4" stroke-width="1" />
<line x1="1599.5" y1="415.5" x2="1666.5" y2="415.5" stroke="#d4d4d4" stroke-width="1" />
<line x1="1599.5" y1="458.5" x2="1666.5" y2="458.5" stroke="#d4d4d4" stroke-width="1" />
<line x1="1599.5" y1="520.5" x2="1666.5" y2="520.5" stroke="#d4d4d4" stroke-width="1" />
<line x1="1599.5" y1="598" x2="1666.5" y2="598" stroke="#c8c8c8" stroke-width="3" />
<line x1="850" y1="466" x2="896" y2="340.6" stroke="#d96a6a" stroke-width="1.1" stroke-dasharray="22 4"/>
<line x1="925.6" y1="403.9" x2="997.3" y2="598.3" stroke="#d96a6a" stroke-width="1.1" stroke-dasharray="22 4"/>
<line x1="1227" y1="394.7" x2="1282.2" y2="599.5" stroke="#d96a6a" stroke-width="1.1" stroke-dasharray="22 4"/>
<line x1="1212" y1="340.6" x2="1227" y2="394.7" stroke="#d96a6a" stroke-width="1.1" stroke-dasharray="22 4"/>
<line x1="1666.3" y1="231.3" x2="1599.6" y2="598.4" stroke="#d96a6a" stroke-width="1.1" stroke-dasharray="10 4"/>
<line x1="285" y1="436.4" x2="340" y2="543.3" stroke="#d96a6a" stroke-width="1.1" stroke-dasharray="9 5"/>
<line x1="349" y1="490" x2="405.5" y2="386.4" stroke="#d96a6a" stroke-width="1.1" stroke-dasharray="9 5"/>
<line x1="87" y1="528" x2="109" y2="574" stroke="#d96a6a" stroke-width="1.1" stroke-dasharray="9 5"/>
<line x1="447" y1="423.6" x2="537" y2="361.4" stroke="#d96a6a" stroke-width="1.1" stroke-dasharray="9 5"/>
<line x1="555" y1="423.4" x2="633" y2="339.3" stroke="#d96a6a" stroke-width="1.1" stroke-dasharray="9 5"/>
<g clip-path="url(#cmain)">
<path d="M87.0 600.7 C97.0 598.7 127.0 593.6 147.0 588.6 C167.1 583.6 187.2 576.6 207.3 570.6 C227.4 564.6 247.4 557.6 267.4 552.6 C287.4 547.6 305.4 545.3 327.5 540.5 C349.6 535.7 384.4 527.4 400.0 524.0 C415.6 520.6 404.0 524.6 421.3 520.0 C438.6 515.4 476.4 503.1 504.0 496.4 C531.6 489.7 562.6 485.0 586.7 479.8 C610.8 474.6 629.8 469.2 648.7 465.4 C667.6 461.6 687.9 459.9 700.0 457.0 C712.1 454.1 710.9 450.8 721.4 447.9 C731.9 445.0 748.9 442.2 762.7 439.6 C776.5 437.0 790.2 434.9 804.0 432.3 C817.8 429.7 831.6 426.2 845.4 424.0 C859.2 421.8 873.0 420.4 886.8 419.0 C900.6 417.6 915.8 416.5 928.0 415.8 C940.2 415.1 946.2 415.3 960.0 414.8 C973.8 414.3 990.3 412.7 1010.5 412.8 C1030.7 412.9 1061.4 414.8 1081.0 415.2 C1100.6 415.6 1116.3 415.8 1128.0 415.2 C1139.7 414.6 1139.4 413.3 1151.4 411.7 C1163.4 410.1 1185.2 407.2 1200.0 405.8 C1214.8 404.4 1225.0 405.1 1240.0 403.5 C1255.0 401.9 1272.1 399.0 1290.0 396.5 C1307.9 394.0 1324.0 391.5 1347.6 388.7 C1371.2 385.9 1403.6 382.8 1431.6 379.5 C1459.6 376.2 1495.9 371.4 1515.6 368.9 C1535.3 366.4 1544.3 365.1 1550.0 364.4" fill="none" stroke="#e6e6e6" stroke-width="1.4" stroke-linejoin="round" />
<line x1="87" y1="588" x2="478" y2="588" stroke="#8e8e8e" stroke-width="4"/>
<line x1="129.4" y1="390" x2="488" y2="557" stroke="#dcdcdc" stroke-width="1.5" stroke-dasharray="6 6"/>
<line x1="129.4" y1="480.4" x2="422" y2="617" stroke="#dcdcdc" stroke-width="1.5" stroke-dasharray="6 6"/>
<line x1="402" y1="397" x2="574" y2="451" stroke="#d8c040" stroke-width="1.5" stroke-dasharray="7 6"/>
<line x1="440" y1="449" x2="574" y2="468" stroke="#d8c040" stroke-width="1.5" stroke-dasharray="7 6"/>
<line x1="583" y1="409" x2="662" y2="331" stroke="#d8c040" stroke-width="1.3" stroke-dasharray="7 6"/>
<line x1="260" y1="545" x2="603" y2="366" stroke="#2fb84a" stroke-width="1.3" stroke-dasharray="7 6"/>
<line x1="543" y1="363" x2="755" y2="336.5" stroke="#dcdcdc" stroke-width="1.5" stroke-dasharray="7 6"/>
<line x1="620" y1="397" x2="755" y2="380" stroke="#dcdcdc" stroke-width="1.5" stroke-dasharray="7 6"/>
<path d="M87.0 523.3 C88.5 523.3 92.2 523.8 96.0 523.3 C99.8 522.8 103.6 521.5 109.6 520.3 C115.6 519.0 124.5 517.8 132.0 515.8 C139.5 513.8 147.2 511.1 154.7 508.3 C162.2 505.5 169.7 502.7 177.2 499.2 C184.7 495.7 192.3 490.4 199.8 487.2 C207.3 483.9 214.8 481.9 222.3 479.7 C229.8 477.4 237.5 475.1 244.9 473.7 C252.3 472.3 260.3 471.9 267.0 471.4 C273.7 470.9 277.0 471.6 285.0 470.7 C293.0 469.8 306.0 467.5 315.0 466.0 C324.0 464.5 331.5 462.4 339.0 461.7 C346.5 461.0 350.7 461.7 360.0 461.7 C369.3 461.7 384.8 462.1 395.0 461.7 C405.2 461.2 409.7 460.8 421.0 459.0 C432.3 457.2 448.9 454.8 462.7 451.0 C476.5 447.2 490.2 440.9 504.0 436.4 C517.8 431.9 531.6 428.8 545.4 424.0 C559.2 419.2 572.9 412.7 586.7 407.5 C600.5 402.3 614.2 396.8 628.0 393.0 C641.8 389.2 657.4 386.9 669.4 384.8 C681.4 382.7 691.3 382.0 700.0 380.6 C708.7 379.2 710.9 377.9 721.4 376.5 C731.9 375.1 748.9 373.9 762.7 372.4 C776.5 370.8 790.2 368.6 804.0 367.2 C817.8 365.8 833.3 364.9 845.4 364.0 C857.5 363.1 867.8 362.0 876.4 362.0 C885.0 362.0 890.1 363.0 897.0 364.0 C903.9 365.0 910.9 366.6 917.8 368.2 C924.7 369.8 931.5 371.7 938.5 373.4 C945.5 375.1 951.9 376.9 960.0 378.6 C968.1 380.3 976.7 379.6 987.0 383.5 C997.3 387.4 1010.3 395.4 1022.0 402.0 C1033.7 408.6 1045.6 416.7 1057.4 423.4 C1069.2 430.1 1080.9 437.1 1092.7 442.2 C1104.5 447.3 1120.2 452.0 1128.0 454.0 C1135.8 456.0 1133.8 454.6 1139.6 454.0 C1145.4 453.4 1152.9 452.6 1163.0 450.4 C1173.1 448.2 1184.9 446.2 1200.0 441.0 C1215.1 435.8 1240.0 426.6 1253.4 419.0 C1266.8 411.4 1271.3 402.1 1280.3 395.5 C1289.3 388.9 1299.9 384.3 1307.2 379.5 C1314.5 374.7 1318.4 370.1 1324.0 366.9 C1329.6 363.7 1335.2 362.7 1340.8 360.2 C1346.4 357.7 1351.1 355.1 1357.6 351.8 C1364.1 348.5 1373.5 343.5 1380.0 340.3 C1386.5 337.1 1390.1 335.1 1396.8 332.4 C1403.5 329.7 1412.5 327.1 1420.0 324.0 C1427.5 320.9 1432.4 317.8 1442.0 314.0 C1451.6 310.2 1465.7 304.8 1477.5 301.0 C1489.3 297.2 1502.2 294.3 1512.8 291.3 C1523.4 288.3 1534.9 285.0 1541.0 282.9 C1547.1 280.8 1548.0 279.4 1549.4 278.7" fill="none" stroke="#d6103c" stroke-width="1.6" stroke-linejoin="round" />
<path d="M87.0 504.0 C90.8 503.7 100.0 504.0 110.0 502.0 C120.0 500.0 137.0 495.7 147.0 492.0 C157.0 488.3 162.2 484.7 170.0 480.0 C177.8 475.3 188.1 468.8 194.0 464.0 C199.9 459.2 196.7 453.2 205.7 451.0 C214.7 448.8 238.2 449.6 248.0 451.0 C257.8 452.4 257.8 455.2 264.5 459.3 C271.2 463.4 280.2 472.2 288.0 475.7 C295.8 479.2 303.7 480.6 311.5 480.4 C319.3 480.2 326.9 477.0 335.0 474.6 C343.1 472.2 352.2 468.6 360.0 466.0 C367.8 463.4 374.5 461.6 382.0 459.3 C389.5 457.0 397.2 454.4 405.0 452.0 C412.8 449.6 419.8 449.0 429.0 445.0 C438.2 441.0 449.2 433.6 460.0 428.0 C470.8 422.4 484.6 415.4 493.7 411.6 C502.8 407.8 505.8 407.1 514.4 405.4 C523.0 403.7 536.8 402.4 545.4 401.3 C554.0 400.2 559.1 400.1 566.0 399.0 C572.9 397.9 579.8 397.0 586.7 395.0 C593.6 393.0 600.5 389.2 607.4 386.8 C614.3 384.4 621.1 383.4 628.0 380.6 C634.9 377.9 641.8 372.7 648.7 370.3 C655.6 367.9 662.5 367.4 669.4 366.0 C676.3 364.6 684.8 363.0 690.0 362.0 C695.2 361.0 696.2 360.3 700.7 360.0 C705.2 359.7 710.1 359.0 717.0 360.0 C723.9 361.0 733.7 363.6 742.0 366.0 C750.3 368.4 761.0 372.5 766.8 374.4 C772.6 376.3 772.5 377.8 777.0 377.5 C781.5 377.2 788.5 373.4 793.7 372.4 C798.9 371.4 803.0 372.4 808.2 371.3 C813.4 370.2 818.5 367.9 824.7 366.0 C830.9 364.1 838.5 362.0 845.4 360.0 C852.3 358.0 860.5 355.0 866.0 353.8 C871.5 352.6 873.5 352.3 878.5 352.7 C883.5 353.1 889.2 354.8 895.8 356.3 C902.3 357.9 912.5 359.4 917.8 362.0 C923.1 364.6 923.3 368.9 927.4 372.0 C931.5 375.1 937.3 374.9 942.6 380.6 C947.9 386.3 954.1 399.9 959.0 406.0 C963.9 412.1 966.8 414.5 972.0 417.0 C977.2 419.5 983.9 417.6 990.5 420.8 C997.1 424.0 1005.5 430.9 1011.6 436.0 C1017.7 441.1 1021.2 445.9 1026.9 451.6 C1032.6 457.3 1039.9 465.3 1045.7 470.4 C1051.5 475.5 1057.0 478.9 1062.0 482.0 C1067.0 485.1 1070.5 487.2 1076.0 489.0 C1081.5 490.8 1090.3 492.7 1095.0 492.7 C1099.7 492.7 1100.1 492.3 1104.0 489.0 C1107.9 485.7 1113.7 477.5 1118.5 472.7 C1123.3 467.9 1126.5 467.4 1133.0 460.0 C1139.5 452.6 1149.8 436.3 1157.6 428.0 C1165.4 419.7 1172.5 415.3 1180.0 410.0 C1187.5 404.7 1196.1 400.3 1202.7 396.0 C1209.3 391.7 1213.4 386.9 1219.6 384.0 C1225.8 381.1 1231.2 381.7 1240.0 378.6 C1248.8 375.5 1263.8 370.1 1272.7 365.5 C1281.6 360.9 1286.5 355.8 1293.4 351.0 C1300.3 346.2 1307.1 341.0 1314.0 336.5 C1320.9 332.0 1327.9 328.1 1334.8 324.0 C1341.7 319.9 1348.6 315.0 1355.5 311.7 C1362.4 308.4 1369.1 306.1 1376.0 304.4 C1382.9 302.7 1390.5 302.3 1396.8 301.3 C1403.1 300.3 1408.3 299.8 1414.0 298.4 C1419.7 297.0 1424.2 294.0 1431.0 292.8 C1437.8 291.6 1448.4 292.3 1455.0 291.3 C1461.6 290.3 1464.4 288.6 1470.5 287.0 C1476.6 285.4 1484.1 283.4 1491.6 281.5 C1499.1 279.6 1509.7 277.7 1515.6 275.8 C1521.5 273.9 1522.6 272.6 1526.8 270.2 C1531.0 267.8 1537.0 263.9 1541.0 261.7 C1545.0 259.5 1549.2 257.9 1550.8 257.2" fill="none" stroke="#c9a92e" stroke-width="1.5" stroke-linejoin="round" />
<path d="M109.5 477.9 V487.8 M122.5 454.0 V461.2 M127.5 458.5 V466.9 M131.5 460.5 V466.0 M149.5 457.1 V463.2 M176.5 439.9 V447.3 M185.5 428.8 V444.3 M204.5 429.2 V445.4 M208.5 440.9 V454.2 M213.5 450.6 V458.8 M222.5 447.5 V456.0 M226.5 446.6 V476.1 M231.5 473.0 V478.2 M244.5 467.2 V477.7 M253.5 457.0 V479.6 M258.5 477.5 V502.9 M262.5 494.6 V541.4 M267.5 515.0 V530.0 M271.5 524.4 V528.2 M321.5 441.8 V451.5 M330.5 433.9 V444.2 M335.5 434.9 V445.9 M339.5 440.0 V451.0 M353.5 439.3 V468.8 M362.5 462.0 V475.0 M366.5 466.4 V490.6 M402.5 425.8 V437.2 M411.5 409.0 V422.8 M425.5 407.4 V415.9 M434.5 407.8 V413.4 M443.5 410.8 V423.1 M452.5 413.2 V425.3 M461.5 407.8 V423.0 M475.5 398.4 V409.1 M488.5 387.9 V401.9 M506.5 384.6 V393.0 M511.5 384.9 V394.0 M515.5 388.6 V405.7 M524.5 396.2 V404.0 M538.5 394.1 V415.1 M543.5 406.9 V422.9 M579.5 366.1 V372.3 M588.5 373.0 V381.4 M592.5 374.8 V389.5 M597.5 384.1 V391.3 M601.5 379.0 V386.8 M628.5 361.9 V373.0 M651.5 349.2 V357.0 M660.5 348.7 V360.3 M665.5 355.5 V361.5 M674.5 353.0 V364.5 M687.5 342.0 V352.1 M692.5 349.4 V385.6 M696.5 378.9 V389.0 M714.5 349.3 V358.9 M719.5 350.4 V366.3 M723.5 360.8 V384.2 M728.5 373.2 V384.3 M732.5 382.1 V389.8 M746.5 364.1 V379.6 M755.5 375.5 V401.1 M764.5 388.9 V396.4 M773.5 374.8 V379.1 M796.5 339.2 V347.9 M800.5 346.4 V365.7 M809.5 352.0 V357.7 M818.5 351.8 V363.9 M823.5 356.6 V365.0 M827.5 359.3 V366.2 M836.5 349.1 V357.1 M841.5 352.3 V365.0 M863.5 338.3 V349.5 M877.5 336.0 V348.3 M882.5 343.4 V369.9 M886.5 366.2 V374.6 M891.5 366.7 V376.4 M895.5 370.2 V385.4 M900.5 378.5 V395.7 M909.5 382.4 V398.9 M913.5 394.6 V408.6 M922.5 400.4 V419.7 M931.5 412.8 V445.6 M945.5 431.4 V463.5 M958.5 420.4 V439.5 M967.5 413.1 V430.7 M986.5 404.4 V421.3 M995.5 409.4 V451.9 M1008.5 433.1 V458.7 M1013.5 450.7 V488.9 M1017.5 482.5 V552.6 M1026.5 505.6 V578.4 M1035.5 468.1 V508.3 M1053.5 480.2 V508.9 M1062.5 500.0 V530.1 M1108.5 429.8 V439.4 M1112.5 437.6 V447.6 M1126.5 426.8 V434.8 M1157.5 376.7 V383.4 M1162.5 377.0 V404.0 M1171.5 398.4 V407.6 M1180.5 377.9 V384.6 M1189.5 383.2 V391.9 M1207.5 372.6 V381.7 M1225.5 360.6 V367.1 M1230.5 360.2 V366.3 M1234.5 364.8 V371.1 M1248.5 358.1 V366.8 M1252.5 358.6 V370.7 M1284.5 316.7 V324.7 M1302.5 310.6 V322.9 M1315.5 309.0 V314.1 M1320.5 308.7 V315.3 M1325.5 311.1 V318.2 M1329.5 311.2 V317.4 M1347.5 300.3 V306.8 M1361.5 284.2 V291.2 M1370.5 285.2 V294.4 M1374.5 288.5 V293.7 M1379.5 288.3 V301.9 M1383.5 298.4 V323.1 M1392.5 298.1 V306.3 M1397.5 297.4 V303.8 M1428.5 276.9 V284.5 M1433.5 276.1 V282.7 M1438.5 272.9 V290.1 M1442.5 286.4 V292.9 M1447.5 287.3 V296.0 M1456.5 272.4 V286.7 M1474.5 266.5 V282.8 M1478.5 276.0 V284.6 M1483.5 280.5 V285.5 M1523.5 236.9 V243.0 M1528.5 236.8 V245.0 M1546.5 222.8 V234.6" stroke="#f7741c" stroke-width="1" fill="none"/>
<g fill="#f7741c"><rect x="108" y="479" width="4" height="7"/><rect x="121" y="458" width="4" height="2"/><rect x="126" y="460" width="4" height="3"/><rect x="130" y="463" width="4" height="2"/><rect x="148" y="459" width="4" height="3"/><rect x="175" y="442" width="4" height="2"/><rect x="184" y="433" width="4" height="9"/><rect x="203" y="430" width="4" height="12"/><rect x="207" y="443" width="4" height="7"/><rect x="212" y="451" width="4" height="5"/><rect x="221" y="449" width="4" height="5"/><rect x="225" y="451" width="4" height="24"/><rect x="230" y="476" width="4" height="2"/><rect x="243" y="471" width="4" height="2"/><rect x="252" y="459" width="4" height="18"/><rect x="257" y="479" width="4" height="19"/><rect x="261" y="497" width="4" height="22"/><rect x="266" y="519" width="4" height="3"/><rect x="270" y="525" width="4" height="2"/><rect x="320" y="445" width="4" height="3"/><rect x="329" y="438" width="4" height="5"/><rect x="334" y="439" width="4" height="3"/><rect x="338" y="442" width="4" height="8"/><rect x="352" y="443" width="4" height="22"/><rect x="361" y="465" width="4" height="6"/><rect x="365" y="470" width="4" height="17"/><rect x="401" y="426" width="4" height="7"/><rect x="410" y="413" width="4" height="6"/><rect x="424" y="412" width="4" height="2"/><rect x="433" y="410" width="4" height="3"/><rect x="442" y="412" width="4" height="9"/><rect x="451" y="416" width="4" height="6"/><rect x="460" y="411" width="4" height="9"/><rect x="474" y="401" width="4" height="5"/><rect x="487" y="391" width="4" height="7"/><rect x="505" y="388" width="4" height="3"/><rect x="510" y="386" width="4" height="7"/><rect x="514" y="389" width="4" height="13"/><rect x="523" y="401" width="4" height="1"/><rect x="537" y="397" width="4" height="16"/><rect x="542" y="411" width="4" height="11"/><rect x="578" y="369" width="4" height="2"/><rect x="587" y="375" width="4" height="2"/><rect x="591" y="378" width="4" height="11"/><rect x="596" y="385" width="4" height="2"/><rect x="600" y="382" width="4" height="2"/><rect x="627" y="365" width="4" height="4"/><rect x="650" y="352" width="4" height="3"/><rect x="659" y="349" width="4" height="10"/><rect x="664" y="357" width="4" height="4"/><rect x="673" y="354" width="4" height="6"/><rect x="686" y="343" width="4" height="7"/><rect x="691" y="350" width="4" height="35"/><rect x="695" y="382" width="4" height="3"/><rect x="713" y="353" width="4" height="3"/><rect x="718" y="354" width="4" height="12"/><rect x="722" y="364" width="4" height="16"/><rect x="727" y="376" width="4" height="7"/><rect x="731" y="386" width="4" height="2"/><rect x="745" y="366" width="4" height="13"/><rect x="754" y="379" width="4" height="20"/><rect x="763" y="390" width="4" height="3"/><rect x="772" y="376" width="4" height="2"/><rect x="795" y="343" width="4" height="3"/><rect x="799" y="349" width="4" height="13"/><rect x="808" y="354" width="4" height="2"/><rect x="817" y="354" width="4" height="6"/><rect x="822" y="359" width="4" height="2"/><rect x="826" y="360" width="4" height="2"/><rect x="835" y="353" width="4" height="2"/><rect x="840" y="355" width="4" height="8"/><rect x="862" y="340" width="4" height="5"/><rect x="876" y="340" width="4" height="6"/><rect x="881" y="345" width="4" height="21"/><rect x="885" y="367" width="4" height="4"/><rect x="890" y="369" width="4" height="3"/><rect x="894" y="371" width="4" height="10"/><rect x="899" y="381" width="4" height="12"/><rect x="908" y="385" width="4" height="13"/><rect x="912" y="396" width="4" height="9"/><rect x="921" y="404" width="4" height="15"/><rect x="930" y="416" width="4" height="27"/><rect x="944" y="433" width="4" height="29"/><rect x="957" y="421" width="4" height="17"/><rect x="966" y="417" width="4" height="12"/><rect x="985" y="409" width="4" height="10"/><rect x="994" y="413" width="4" height="35"/><rect x="1007" y="437" width="4" height="18"/><rect x="1012" y="453" width="4" height="33"/><rect x="1016" y="483" width="4" height="63"/><rect x="1025" y="518" width="4" height="30"/><rect x="1034" y="471" width="4" height="34"/><rect x="1052" y="482" width="4" height="25"/><rect x="1061" y="502" width="4" height="25"/><rect x="1107" y="431" width="4" height="6"/><rect x="1111" y="439" width="4" height="8"/><rect x="1125" y="431" width="4" height="2"/><rect x="1156" y="377" width="4" height="4"/><rect x="1161" y="379" width="4" height="21"/><rect x="1170" y="402" width="4" height="5"/><rect x="1179" y="380" width="4" height="3"/><rect x="1188" y="385" width="4" height="3"/><rect x="1206" y="374" width="4" height="5"/><rect x="1224" y="363" width="4" height="2"/><rect x="1229" y="363" width="4" height="2"/><rect x="1233" y="367" width="4" height="3"/><rect x="1247" y="361" width="4" height="2"/><rect x="1251" y="362" width="4" height="5"/><rect x="1283" y="321" width="4" height="3"/><rect x="1301" y="314" width="4" height="5"/><rect x="1314" y="310" width="4" height="3"/><rect x="1319" y="310" width="4" height="5"/><rect x="1324" y="313" width="4" height="2"/><rect x="1328" y="314" width="4" height="1"/><rect x="1346" y="302" width="4" height="2"/><rect x="1360" y="288" width="4" height="2"/><rect x="1369" y="287" width="4" height="3"/><rect x="1373" y="289" width="4" height="2"/><rect x="1378" y="291" width="4" height="7"/><rect x="1382" y="300" width="4" height="21"/><rect x="1391" y="299" width="4" height="5"/><rect x="1396" y="301" width="4" height="2"/><rect x="1427" y="280" width="4" height="1"/><rect x="1432" y="278" width="4" height="3"/><rect x="1437" y="277" width="4" height="10"/><rect x="1441" y="288" width="4" height="3"/><rect x="1446" y="290" width="4" height="5"/><rect x="1455" y="275" width="4" height="8"/><rect x="1473" y="270" width="4" height="9"/><rect x="1477" y="279" width="4" height="5"/><rect x="1482" y="281" width="4" height="2"/><rect x="1522" y="239" width="4" height="2"/><rect x="1527" y="238" width="4" height="3"/><rect x="1545" y="224" width="4" height="9"/></g>
<path d="M91.5 492.9 V496.5 M91.5 498.5 V499.2 M95.5 489.7 V492.5 M95.5 497.5 V499.1 M100.5 482.3 V483.5 M100.5 495.5 V497.0 M104.5 481.8 V483.5 M104.5 485.5 V484.8 M113.5 460.8 V464.5 M113.5 488.5 V492.6 M118.5 454.6 V459.5 M118.5 462.5 V462.5 M136.5 460.2 V463.5 M136.5 468.5 V470.5 M140.5 459.4 V462.5 M140.5 465.5 V467.6 M145.5 456.9 V461.5 M145.5 463.5 V464.2 M154.5 458.7 V463.5 M154.5 465.5 V468.5 M158.5 456.5 V458.5 M158.5 462.5 V466.2 M163.5 448.2 V452.5 M163.5 460.5 V461.0 M167.5 445.6 V448.5 M167.5 453.5 V453.9 M172.5 442.1 V445.5 M172.5 447.5 V450.3 M181.5 432.4 V435.5 M181.5 442.5 V445.5 M190.5 430.6 V434.5 M190.5 442.5 V444.6 M195.5 431.0 V433.5 M195.5 435.5 V438.0 M199.5 428.4 V430.5 M199.5 435.5 V436.4 M217.5 446.8 V451.5 M217.5 453.5 V456.1 M235.5 468.2 V470.5 M235.5 478.5 V479.4 M240.5 467.6 V469.5 M240.5 472.5 V473.0 M249.5 458.0 V461.5 M249.5 469.5 V472.0 M276.5 500.6 V503.5 M276.5 526.5 V528.9 M280.5 493.7 V496.5 M280.5 505.5 V506.4 M285.5 493.6 V496.5 M285.5 499.5 V501.9 M289.5 477.5 V479.5 M289.5 497.5 V498.4 M294.5 469.9 V474.5 M294.5 480.5 V481.0 M298.5 454.5 V457.5 M298.5 479.5 V480.1 M303.5 452.5 V455.5 M303.5 458.5 V458.5 M308.5 442.0 V446.5 M308.5 449.5 V452.5 M312.5 441.5 V446.5 M312.5 448.5 V449.9 M317.5 439.6 V442.5 M317.5 446.5 V449.1 M326.5 437.6 V439.5 M326.5 448.5 V450.1 M344.5 445.7 V448.5 M344.5 451.5 V452.4 M348.5 441.1 V443.5 M348.5 446.5 V447.7 M357.5 462.4 V465.5 M357.5 468.5 V471.0 M371.5 470.6 V474.5 M371.5 486.5 V487.6 M375.5 466.4 V470.5 M375.5 474.5 V478.9 M380.5 455.3 V460.5 M380.5 468.5 V471.7 M384.5 451.1 V452.5 M384.5 461.5 V462.0 M389.5 442.2 V446.5 M389.5 455.5 V456.1 M393.5 427.3 V431.5 M393.5 450.5 V454.2 M398.5 425.4 V428.5 M398.5 430.5 V431.0 M407.5 410.9 V415.5 M407.5 431.5 V433.5 M416.5 414.4 V416.5 M416.5 419.5 V420.8 M421.5 409.7 V413.5 M421.5 418.5 V419.2 M430.5 407.8 V410.5 M430.5 415.5 V417.4 M439.5 405.8 V408.5 M439.5 412.5 V412.8 M448.5 413.7 V417.5 M448.5 421.5 V423.6 M457.5 410.5 V411.5 M457.5 424.5 V426.7 M466.5 409.1 V412.5 M466.5 422.5 V425.7 M470.5 399.2 V402.5 M470.5 414.5 V416.4 M479.5 398.9 V401.5 M479.5 403.5 V407.5 M484.5 385.8 V389.5 M484.5 402.5 V406.2 M493.5 390.1 V394.5 M493.5 397.5 V398.1 M497.5 391.9 V393.5 M497.5 396.5 V397.1 M502.5 388.3 V389.5 M502.5 394.5 V397.5 M520.5 398.9 V400.5 M520.5 402.5 V405.6 M529.5 394.0 V396.5 M529.5 405.5 V407.2 M534.5 394.4 V396.5 M534.5 398.5 V400.2 M547.5 413.6 V418.5 M547.5 422.5 V423.2 M552.5 413.1 V415.5 M552.5 418.5 V422.6 M556.5 404.2 V405.5 M556.5 414.5 V417.5 M561.5 375.3 V378.5 M561.5 407.5 V411.5 M565.5 367.7 V370.5 M565.5 375.5 V377.2 M570.5 366.8 V368.5 M570.5 370.5 V372.2 M574.5 366.0 V368.5 M574.5 371.5 V371.4 M583.5 366.6 V368.5 M583.5 372.5 V372.8 M606.5 379.9 V383.5 M606.5 385.5 V386.4 M610.5 375.7 V379.5 M610.5 385.5 V389.9 M615.5 371.6 V374.5 M615.5 380.5 V384.2 M619.5 366.7 V369.5 M619.5 374.5 V375.7 M624.5 360.4 V364.5 M624.5 366.5 V369.3 M633.5 359.7 V361.5 M633.5 371.5 V372.2 M637.5 357.8 V359.5 M637.5 361.5 V364.8 M642.5 354.0 V358.5 M642.5 361.5 V361.8 M647.5 350.0 V353.5 M647.5 357.5 V360.6 M656.5 349.6 V352.5 M656.5 355.5 V359.7 M669.5 347.8 V352.5 M669.5 360.5 V361.5 M678.5 358.0 V360.5 M678.5 362.5 V365.0 M683.5 339.9 V341.5 M683.5 362.5 V364.3 M701.5 371.2 V373.5 M701.5 387.5 V388.3 M705.5 360.6 V364.5 M705.5 374.5 V377.6 M710.5 352.2 V353.5 M710.5 364.5 V367.7 M737.5 372.2 V375.5 M737.5 389.5 V389.3 M741.5 364.7 V366.5 M741.5 377.5 V378.8 M750.5 380.1 V381.5 M750.5 383.5 V385.7 M760.5 392.8 V394.5 M760.5 400.5 V403.8 M769.5 374.6 V375.5 M769.5 389.5 V393.3 M778.5 362.4 V365.5 M778.5 377.5 V379.3 M782.5 350.1 V353.5 M782.5 364.5 V367.4 M787.5 345.8 V348.5 M787.5 352.5 V354.8 M791.5 337.6 V342.5 M791.5 347.5 V348.3 M805.5 352.8 V354.5 M805.5 365.5 V365.7 M814.5 348.2 V353.5 M814.5 358.5 V362.8 M832.5 350.1 V353.5 M832.5 358.5 V359.2 M845.5 352.9 V355.5 M845.5 363.5 V363.8 M850.5 350.4 V354.5 M850.5 356.5 V359.0 M854.5 351.0 V352.5 M854.5 356.5 V359.7 M859.5 343.3 V345.5 M859.5 351.5 V352.9 M868.5 340.1 V344.5 M868.5 347.5 V348.6 M873.5 340.5 V341.5 M873.5 343.5 V346.1 M904.5 379.2 V382.5 M904.5 396.5 V399.7 M918.5 400.3 V403.5 M918.5 406.5 V408.2 M927.5 416.5 V420.5 M927.5 422.5 V422.1 M936.5 442.1 V444.5 M936.5 448.5 V448.9 M940.5 430.1 V432.5 M940.5 445.5 V445.6 M949.5 441.8 V445.5 M949.5 458.5 V459.9 M954.5 420.4 V423.5 M954.5 443.5 V445.9 M963.5 415.8 V420.5 M963.5 439.5 V440.3 M972.5 423.6 V425.5 M972.5 429.5 V430.7 M976.5 403.4 V408.5 M976.5 423.5 V427.1 M981.5 401.1 V405.5 M981.5 409.5 V409.7 M990.5 414.3 V417.5 M990.5 420.5 V420.1 M999.5 435.8 V440.5 M999.5 451.5 V452.6 M1004.5 433.9 V437.5 M1004.5 441.5 V444.5 M1022.5 509.7 V513.5 M1022.5 547.5 V600.0 M1031.5 467.0 V473.5 M1031.5 545.5 V592.5 M1040.5 485.4 V488.5 M1040.5 504.5 V504.8 M1044.5 480.3 V482.5 M1044.5 489.5 V491.7 M1049.5 478.4 V482.5 M1049.5 485.5 V487.5 M1058.5 501.6 V503.5 M1058.5 511.5 V511.4 M1067.5 499.7 V503.5 M1067.5 525.5 V529.6 M1071.5 483.9 V485.5 M1071.5 504.5 V504.3 M1076.5 462.5 V466.5 M1076.5 484.5 V485.4 M1080.5 455.3 V459.5 M1080.5 468.5 V471.1 M1085.5 449.8 V454.5 M1085.5 457.5 V459.2 M1089.5 448.4 V452.5 M1089.5 454.5 V455.5 M1094.5 444.3 V446.5 M1094.5 453.5 V457.1 M1099.5 436.2 V439.5 M1099.5 450.5 V450.9 M1103.5 425.5 V429.5 M1103.5 439.5 V443.4 M1117.5 441.5 V442.5 M1117.5 453.5 V454.8 M1121.5 430.3 V434.5 M1121.5 446.5 V450.4 M1130.5 394.0 V398.5 M1130.5 435.5 V435.7 M1135.5 389.7 V393.5 M1135.5 402.5 V404.3 M1139.5 388.7 V390.5 M1139.5 392.5 V392.0 M1144.5 383.5 V385.5 M1144.5 391.5 V393.2 M1148.5 377.8 V382.5 M1148.5 386.5 V387.5 M1153.5 374.5 V376.5 M1153.5 382.5 V385.7 M1166.5 397.9 V400.5 M1166.5 402.5 V405.0 M1175.5 379.6 V384.5 M1175.5 408.5 V409.2 M1184.5 382.4 V386.5 M1184.5 389.5 V392.8 M1193.5 378.4 V383.5 M1193.5 385.5 V386.0 M1198.5 372.2 V376.5 M1198.5 380.5 V381.4 M1202.5 371.8 V376.5 M1202.5 379.5 V382.8 M1212.5 370.3 V372.5 M1212.5 384.5 V387.6 M1216.5 369.1 V370.5 M1216.5 372.5 V373.7 M1221.5 361.4 V365.5 M1221.5 372.5 V374.6 M1239.5 355.7 V357.5 M1239.5 373.5 V375.2 M1243.5 358.5 V360.5 M1243.5 362.5 V363.5 M1257.5 358.6 V360.5 M1257.5 367.5 V368.1 M1261.5 343.2 V345.5 M1261.5 362.5 V364.2 M1266.5 341.1 V343.5 M1266.5 345.5 V349.5 M1270.5 336.0 V337.5 M1270.5 344.5 V345.0 M1275.5 327.1 V330.5 M1275.5 337.5 V340.4 M1279.5 323.3 V324.5 M1279.5 331.5 V333.7 M1288.5 317.5 V319.5 M1288.5 324.5 V325.0 M1293.5 310.1 V313.5 M1293.5 321.5 V325.6 M1297.5 313.9 V316.5 M1297.5 318.5 V322.4 M1306.5 314.2 V315.5 M1306.5 319.5 V322.1 M1311.5 309.4 V311.5 M1311.5 314.5 V315.0 M1334.5 306.8 V309.5 M1334.5 317.5 V320.4 M1338.5 303.6 V306.5 M1338.5 308.5 V311.4 M1343.5 301.9 V304.5 M1343.5 307.5 V308.4 M1352.5 294.0 V296.5 M1352.5 309.5 V311.3 M1356.5 291.3 V293.5 M1356.5 301.5 V302.1 M1365.5 285.0 V287.5 M1365.5 295.5 V298.4 M1388.5 302.9 V304.5 M1388.5 322.5 V323.9 M1401.5 293.6 V296.5 M1401.5 305.5 V307.8 M1406.5 292.9 V294.5 M1406.5 296.5 V298.8 M1410.5 287.2 V290.5 M1410.5 292.5 V295.9 M1415.5 285.1 V286.5 M1415.5 289.5 V291.4 M1419.5 274.9 V279.5 M1419.5 286.5 V286.9 M1424.5 275.4 V277.5 M1424.5 279.5 V280.0 M1451.5 277.2 V278.5 M1451.5 296.5 V300.6 M1460.5 273.2 V277.5 M1460.5 283.5 V287.1 M1465.5 276.0 V277.5 M1465.5 279.5 V281.3 M1469.5 268.0 V271.5 M1469.5 277.5 V278.0 M1487.5 269.3 V273.5 M1487.5 283.5 V283.4 M1492.5 272.5 V277.5 M1492.5 280.5 V281.3 M1496.5 267.9 V272.5 M1496.5 280.5 V284.3 M1501.5 265.3 V269.5 M1501.5 273.5 V274.6 M1505.5 260.7 V265.5 M1505.5 270.5 V271.3 M1510.5 253.8 V256.5 M1510.5 265.5 V269.5 M1514.5 252.3 V254.5 M1514.5 256.5 V256.7 M1519.5 240.4 V241.5 M1519.5 252.5 V252.9 M1532.5 234.8 V235.5 M1532.5 244.5 V248.1 M1537.5 229.0 V232.5 M1537.5 237.5 V238.5 M1541.5 223.9 V224.5 M1541.5 233.5 V236.7 M1551.5 229.5 V230.5 M1551.5 232.5 V232.2" stroke="#36dc36" stroke-width="1" fill="none"/>
<path d="M90.5 496.5 h3 V498.5 h-3 Z M94.5 492.5 h3 V497.5 h-3 Z M99.5 483.5 h3 V495.5 h-3 Z M103.5 483.5 h3 V485.5 h-3 Z M112.5 464.5 h3 V488.5 h-3 Z M117.5 459.5 h3 V462.5 h-3 Z M135.5 463.5 h3 V468.5 h-3 Z M139.5 462.5 h3 V465.5 h-3 Z M144.5 461.5 h3 V463.5 h-3 Z M153.5 463.5 h3 V465.5 h-3 Z M157.5 458.5 h3 V462.5 h-3 Z M162.5 452.5 h3 V460.5 h-3 Z M166.5 448.5 h3 V453.5 h-3 Z M171.5 445.5 h3 V447.5 h-3 Z M180.5 435.5 h3 V442.5 h-3 Z M189.5 434.5 h3 V442.5 h-3 Z M194.5 433.5 h3 V435.5 h-3 Z M198.5 430.5 h3 V435.5 h-3 Z M216.5 451.5 h3 V453.5 h-3 Z M234.5 470.5 h3 V478.5 h-3 Z M239.5 469.5 h3 V472.5 h-3 Z M248.5 461.5 h3 V469.5 h-3 Z M275.5 503.5 h3 V526.5 h-3 Z M279.5 496.5 h3 V505.5 h-3 Z M284.5 496.5 h3 V499.5 h-3 Z M288.5 479.5 h3 V497.5 h-3 Z M293.5 474.5 h3 V480.5 h-3 Z M297.5 457.5 h3 V479.5 h-3 Z M302.5 455.5 h3 V458.5 h-3 Z M307.5 446.5 h3 V449.5 h-3 Z M311.5 446.5 h3 V448.5 h-3 Z M316.5 442.5 h3 V446.5 h-3 Z M325.5 439.5 h3 V448.5 h-3 Z M343.5 448.5 h3 V451.5 h-3 Z M347.5 443.5 h3 V446.5 h-3 Z M356.5 465.5 h3 V468.5 h-3 Z M370.5 474.5 h3 V486.5 h-3 Z M374.5 470.5 h3 V474.5 h-3 Z M379.5 460.5 h3 V468.5 h-3 Z M383.5 452.5 h3 V461.5 h-3 Z M388.5 446.5 h3 V455.5 h-3 Z M392.5 431.5 h3 V450.5 h-3 Z M397.5 428.5 h3 V430.5 h-3 Z M406.5 415.5 h3 V431.5 h-3 Z M415.5 416.5 h3 V419.5 h-3 Z M420.5 413.5 h3 V418.5 h-3 Z M429.5 410.5 h3 V415.5 h-3 Z M438.5 408.5 h3 V412.5 h-3 Z M447.5 417.5 h3 V421.5 h-3 Z M456.5 411.5 h3 V424.5 h-3 Z M465.5 412.5 h3 V422.5 h-3 Z M469.5 402.5 h3 V414.5 h-3 Z M478.5 401.5 h3 V403.5 h-3 Z M483.5 389.5 h3 V402.5 h-3 Z M492.5 394.5 h3 V397.5 h-3 Z M496.5 393.5 h3 V396.5 h-3 Z M501.5 389.5 h3 V394.5 h-3 Z M519.5 400.5 h3 V402.5 h-3 Z M528.5 396.5 h3 V405.5 h-3 Z M533.5 396.5 h3 V398.5 h-3 Z M546.5 418.5 h3 V422.5 h-3 Z M551.5 415.5 h3 V418.5 h-3 Z M555.5 405.5 h3 V414.5 h-3 Z M560.5 378.5 h3 V407.5 h-3 Z M564.5 370.5 h3 V375.5 h-3 Z M569.5 368.5 h3 V370.5 h-3 Z M573.5 368.5 h3 V371.5 h-3 Z M582.5 368.5 h3 V372.5 h-3 Z M605.5 383.5 h3 V385.5 h-3 Z M609.5 379.5 h3 V385.5 h-3 Z M614.5 374.5 h3 V380.5 h-3 Z M618.5 369.5 h3 V374.5 h-3 Z M623.5 364.5 h3 V366.5 h-3 Z M632.5 361.5 h3 V371.5 h-3 Z M636.5 359.5 h3 V361.5 h-3 Z M641.5 358.5 h3 V361.5 h-3 Z M646.5 353.5 h3 V357.5 h-3 Z M655.5 352.5 h3 V355.5 h-3 Z M668.5 352.5 h3 V360.5 h-3 Z M677.5 360.5 h3 V362.5 h-3 Z M682.5 341.5 h3 V362.5 h-3 Z M700.5 373.5 h3 V387.5 h-3 Z M704.5 364.5 h3 V374.5 h-3 Z M709.5 353.5 h3 V364.5 h-3 Z M736.5 375.5 h3 V389.5 h-3 Z M740.5 366.5 h3 V377.5 h-3 Z M749.5 381.5 h3 V383.5 h-3 Z M759.5 394.5 h3 V400.5 h-3 Z M768.5 375.5 h3 V389.5 h-3 Z M777.5 365.5 h3 V377.5 h-3 Z M781.5 353.5 h3 V364.5 h-3 Z M786.5 348.5 h3 V352.5 h-3 Z M790.5 342.5 h3 V347.5 h-3 Z M804.5 354.5 h3 V365.5 h-3 Z M813.5 353.5 h3 V358.5 h-3 Z M831.5 353.5 h3 V358.5 h-3 Z M844.5 355.5 h3 V363.5 h-3 Z M849.5 354.5 h3 V356.5 h-3 Z M853.5 352.5 h3 V356.5 h-3 Z M858.5 345.5 h3 V351.5 h-3 Z M867.5 344.5 h3 V347.5 h-3 Z M872.5 341.5 h3 V343.5 h-3 Z M903.5 382.5 h3 V396.5 h-3 Z M917.5 403.5 h3 V406.5 h-3 Z M926.5 420.5 h3 V422.5 h-3 Z M935.5 444.5 h3 V448.5 h-3 Z M939.5 432.5 h3 V445.5 h-3 Z M948.5 445.5 h3 V458.5 h-3 Z M953.5 423.5 h3 V443.5 h-3 Z M962.5 420.5 h3 V439.5 h-3 Z M971.5 425.5 h3 V429.5 h-3 Z M975.5 408.5 h3 V423.5 h-3 Z M980.5 405.5 h3 V409.5 h-3 Z M989.5 417.5 h3 V420.5 h-3 Z M998.5 440.5 h3 V451.5 h-3 Z M1003.5 437.5 h3 V441.5 h-3 Z M1021.5 513.5 h3 V547.5 h-3 Z M1030.5 473.5 h3 V545.5 h-3 Z M1039.5 488.5 h3 V504.5 h-3 Z M1043.5 482.5 h3 V489.5 h-3 Z M1048.5 482.5 h3 V485.5 h-3 Z M1057.5 503.5 h3 V511.5 h-3 Z M1066.5 503.5 h3 V525.5 h-3 Z M1070.5 485.5 h3 V504.5 h-3 Z M1075.5 466.5 h3 V484.5 h-3 Z M1079.5 459.5 h3 V468.5 h-3 Z M1084.5 454.5 h3 V457.5 h-3 Z M1088.5 452.5 h3 V454.5 h-3 Z M1093.5 446.5 h3 V453.5 h-3 Z M1098.5 439.5 h3 V450.5 h-3 Z M1102.5 429.5 h3 V439.5 h-3 Z M1116.5 442.5 h3 V453.5 h-3 Z M1120.5 434.5 h3 V446.5 h-3 Z M1129.5 398.5 h3 V435.5 h-3 Z M1134.5 393.5 h3 V402.5 h-3 Z M1138.5 390.5 h3 V392.5 h-3 Z M1143.5 385.5 h3 V391.5 h-3 Z M1147.5 382.5 h3 V386.5 h-3 Z M1152.5 376.5 h3 V382.5 h-3 Z M1165.5 400.5 h3 V402.5 h-3 Z M1174.5 384.5 h3 V408.5 h-3 Z M1183.5 386.5 h3 V389.5 h-3 Z M1192.5 383.5 h3 V385.5 h-3 Z M1197.5 376.5 h3 V380.5 h-3 Z M1201.5 376.5 h3 V379.5 h-3 Z M1211.5 372.5 h3 V384.5 h-3 Z M1215.5 370.5 h3 V372.5 h-3 Z M1220.5 365.5 h3 V372.5 h-3 Z M1238.5 357.5 h3 V373.5 h-3 Z M1242.5 360.5 h3 V362.5 h-3 Z M1256.5 360.5 h3 V367.5 h-3 Z M1260.5 345.5 h3 V362.5 h-3 Z M1265.5 343.5 h3 V345.5 h-3 Z M1269.5 337.5 h3 V344.5 h-3 Z M1274.5 330.5 h3 V337.5 h-3 Z M1278.5 324.5 h3 V331.5 h-3 Z M1287.5 319.5 h3 V324.5 h-3 Z M1292.5 313.5 h3 V321.5 h-3 Z M1296.5 316.5 h3 V318.5 h-3 Z M1305.5 315.5 h3 V319.5 h-3 Z M1310.5 311.5 h3 V314.5 h-3 Z M1333.5 309.5 h3 V317.5 h-3 Z M1337.5 306.5 h3 V308.5 h-3 Z M1342.5 304.5 h3 V307.5 h-3 Z M1351.5 296.5 h3 V309.5 h-3 Z M1355.5 293.5 h3 V301.5 h-3 Z M1364.5 287.5 h3 V295.5 h-3 Z M1387.5 304.5 h3 V322.5 h-3 Z M1400.5 296.5 h3 V305.5 h-3 Z M1405.5 294.5 h3 V296.5 h-3 Z M1409.5 290.5 h3 V292.5 h-3 Z M1414.5 286.5 h3 V289.5 h-3 Z M1418.5 279.5 h3 V286.5 h-3 Z M1423.5 277.5 h3 V279.5 h-3 Z M1450.5 278.5 h3 V296.5 h-3 Z M1459.5 277.5 h3 V283.5 h-3 Z M1464.5 277.5 h3 V279.5 h-3 Z M1468.5 271.5 h3 V277.5 h-3 Z M1486.5 273.5 h3 V283.5 h-3 Z M1491.5 277.5 h3 V280.5 h-3 Z M1495.5 272.5 h3 V280.5 h-3 Z M1500.5 269.5 h3 V273.5 h-3 Z M1504.5 265.5 h3 V270.5 h-3 Z M1509.5 256.5 h3 V265.5 h-3 Z M1513.5 254.5 h3 V256.5 h-3 Z M1518.5 241.5 h3 V252.5 h-3 Z M1531.5 235.5 h3 V244.5 h-3 Z M1536.5 232.5 h3 V237.5 h-3 Z M1540.5 224.5 h3 V233.5 h-3 Z M1550.5 230.5 h3 V232.5 h-3 Z" stroke="#36dc36" stroke-width="1" fill="#171717"/>
<line x1="120" y1="369" x2="145.6" y2="353.5" stroke="#e0e0e0" stroke-width="1.6"/>
<line x1="193" y1="424" x2="532" y2="449.4" stroke="#f4f4f4" stroke-width="2.6"/>
<line x1="87" y1="492.4" x2="332" y2="482.8" stroke="#3ccc3c" stroke-width="2.6"/>
<line x1="87" y1="582.6" x2="538" y2="481" stroke="#00e8ff" stroke-width="2.6"/>
<line x1="216" y1="561.6" x2="757.7" y2="336.9" stroke="#20c4d4" stroke-width="1.6"/>
<line x1="499" y1="386" x2="700" y2="338" stroke="#d8d8d8" stroke-width="1.3"/>
<line x1="561" y1="363" x2="781.5" y2="318.8" stroke="#d8d8d8" stroke-width="1.3"/>
<line x1="463.8" y1="380.6" x2="1120" y2="484" stroke="#d8d8d8" stroke-width="1.3"/>
<line x1="485.9" y1="398.2" x2="631.5" y2="467" stroke="#d8d8d8" stroke-width="1.3"/>
<line x1="865.4" y1="332.9" x2="1110.5" y2="474.9" stroke="#d8d8d8" stroke-width="1.3"/>
<line x1="1291.9" y1="426.9" x2="1538" y2="426.9" stroke="#00e8ff" stroke-width="2.6"/>
<line x1="1307.7" y1="499.8" x2="1557.8" y2="499.8" stroke="#00e8ff" stroke-width="2.6"/>
<line x1="1538.2" y1="279.8" x2="1581.4" y2="279.8" stroke="#e8e8e8" stroke-width="2"/>
<line x1="1538.2" y1="380.9" x2="1581.4" y2="380.9" stroke="#e8e8e8" stroke-width="2"/>
<line x1="87" y1="508" x2="160" y2="444.5" stroke="#d0103a" stroke-width="1.5"/>
<line x1="1297" y1="307" x2="1322" y2="320" stroke="#e8e8e8" stroke-width="1.5"/>
<text x="95" y="328.5" font-size="18" fill="#9e9e9e" >161.8%</text>
<text x="167" y="328.5" font-size="18" fill="#9e9e9e" >$6189.54</text>
<text x="95" y="418.5" font-size="18" fill="#9e9e9e" >100.0%</text>
<text x="167" y="418.5" font-size="18" fill="#9e9e9e" >$5721.25</text>
<text x="95" y="450" font-size="18" fill="#9e9e9e" >78.6%</text>
<text x="159" y="450" font-size="18" fill="#9e9e9e" >$5559.09</text>
<text x="95" y="566" font-size="18" fill="#9e9e9e" >0.0%</text>
<text x="149" y="566" font-size="18" fill="#9e9e9e" >$4963.5</text>
<text x="286" y="362.5" font-size="18" fill="#9e9e9e" >161.8%</text>
<text x="358" y="362.5" font-size="18" fill="#9e9e9e" >$6009.5</text>
<text x="349.2" y="377.6" font-size="18" fill="#9e9e9e" >0.0%</text>
<text x="403.2" y="377.6" font-size="18" fill="#9e9e9e" >$5927.25</text>
<text x="286" y="427.8" font-size="18" fill="#9e9e9e" >100.0%</text>
<text x="358" y="427.8" font-size="18" fill="#9e9e9e" >$5669.75</text>
<text x="448" y="315.9" font-size="18" fill="#9e9e9e" >161.8%</text>
<text x="520" y="315.9" font-size="18" fill="#9e9e9e" >$6249.93</text>
<text x="448" y="352.2" font-size="18" fill="#9e9e9e" >100.0%</text>
<text x="520" y="352.2" font-size="18" fill="#9e9e9e" >$6053.25</text>
<text x="555.6" y="281.6" font-size="18" fill="#c6c6c6" >161.8%</text>
<text x="627.6" y="281.6" font-size="18" fill="#c6c6c6" >$6428.72</text>
<text x="555.6" y="330.3" font-size="18" fill="#c6c6c6" >100.0%</text>
<text x="627.6" y="330.3" font-size="18" fill="#c6c6c6" >$6163.75</text>
<text x="851" y="331" font-size="18" fill="#c6c6c6" >100.0%</text>
<text x="923" y="331" font-size="18" fill="#c6c6c6" >$6160.01</text>
<text x="851" y="359" font-size="18" fill="#c6c6c6" >78.6%</text>
<text x="915" y="359" font-size="18" fill="#c6c6c6" >$6020.69</text>
<text x="851" y="458" font-size="18" fill="#c6c6c6" >0.0%</text>
<text x="905" y="458" font-size="18" fill="#c6c6c6" >$5508.97</text>
<text x="925.6" y="274.3" font-size="18" fill="#c6c6c6" >161.8%</text>
<text x="997.6" y="274.3" font-size="18" fill="#c6c6c6" >$6457.28</text>
<text x="925.6" y="394.7" font-size="18" fill="#c6c6c6" >100.0%</text>
<text x="997.6" y="394.7" font-size="18" fill="#c6c6c6" >$5836.5</text>
<text x="925.6" y="437" font-size="18" fill="#c6c6c6" >78.6%</text>
<text x="989.6" y="437" font-size="18" fill="#c6c6c6" >$5621.54</text>
<text x="925.6" y="470.5" font-size="18" fill="#c6c6c6" >61.8%</text>
<text x="989.6" y="470.5" font-size="18" fill="#c6c6c6" >$5452.78</text>
<text x="925.6" y="545.2" font-size="18" fill="#c6c6c6" >23.6%</text>
<text x="989.6" y="545.2" font-size="18" fill="#c6c6c6" >$5069.06</text>
<text x="925.6" y="589.9" font-size="18" fill="#c6c6c6" >0.0%</text>
<text x="979.6" y="589.9" font-size="18" fill="#c6c6c6" >$4832</text>
<text x="1212.5" y="331.3" font-size="18" fill="#c6c6c6" >100.0%</text>
<text x="1284.5" y="331.3" font-size="18" fill="#c6c6c6" >$6160.01</text>
<text x="1212.5" y="388.2" font-size="18" fill="#c6c6c6" >78.6%</text>
<text x="1276.5" y="388.2" font-size="18" fill="#c6c6c6" >$5875.82</text>
<text x="1212.5" y="431.9" font-size="18" fill="#c6c6c6" >61.8%</text>
<text x="1275.5" y="431.9" font-size="18" fill="#c6c6c6" >$5652.71</text>
<text x="1212.5" y="462.8" font-size="18" fill="#c6c6c6" >50.0%</text>
<text x="1275.5" y="462.8" font-size="18" fill="#c6c6c6" >$5496.01</text>
<text x="1212.5" y="492.4" font-size="18" fill="#c6c6c6" >38.2%</text>
<text x="1275.5" y="492.4" font-size="18" fill="#c6c6c6" >$5339.3</text>
<text x="1212.5" y="530.3" font-size="18" fill="#c6c6c6" >23.6%</text>
<text x="1275.5" y="530.3" font-size="18" fill="#c6c6c6" >$5145.41</text>
<text x="1212.5" y="590.8" font-size="18" fill="#c6c6c6" >0.0%</text>
<text x="1265.5" y="590.8" font-size="18" fill="#c6c6c6" >$4832</text>
<text x="1599.6" y="222.4" font-size="18" fill="#c6c6c6" >0.0%</text>
<text x="1652.6" y="222.4" font-size="18" fill="#c6c6c6" >$6719.75</text>
<text x="1599.6" y="311.4" font-size="18" fill="#c6c6c6" >23.6%</text>
<text x="1662.6" y="311.4" font-size="18" fill="#c6c6c6" >$6274.24</text>
<text x="1599.6" y="365.1" font-size="18" fill="#c6c6c6" >38.2%</text>
<text x="1662.6" y="365.1" font-size="18" fill="#c6c6c6" >$5998.63</text>
<text x="1599.6" y="408.4" font-size="18" fill="#c6c6c6" >50.0%</text>
<text x="1662.6" y="408.4" font-size="18" fill="#c6c6c6" >$5775.88</text>
<text x="1599.6" y="451.6" font-size="18" fill="#c6c6c6" >61.8%</text>
<text x="1662.6" y="451.6" font-size="18" fill="#c6c6c6" >$5553.12</text>
<text x="1599.6" y="512.3" font-size="18" fill="#c6c6c6" >78.6%</text>
<text x="1662.6" y="512.3" font-size="18" fill="#c6c6c6" >$5235.98</text>
<text x="1599.6" y="591.5" font-size="18" fill="#c6c6c6" >100.0%</text>
<text x="1672.6" y="591.5" font-size="18" fill="#c6c6c6" >$4832</text>
<text x="1285.5" y="173" font-size="18" fill="#c6c6c6" >$6980.72</text>
</g>
<text x="84" y="134.0" font-size="18" fill="#d2d2d2" text-anchor="end" >7250</text>
<text x="1784.5" y="134.0" font-size="18" fill="#d2d2d2" >7250</text>
<line x1="82.5" y1="127.5" x2="86.5" y2="127.5" stroke="#8a8a8a" stroke-width="1" />
<line x1="1781.5" y1="127.5" x2="1785" y2="127.5" stroke="#8a8a8a" stroke-width="1" />
<text x="84" y="182.86" font-size="18" fill="#d2d2d2" text-anchor="end" >7000</text>
<text x="1784.5" y="182.86" font-size="18" fill="#d2d2d2" >7000</text>
<line x1="82.5" y1="176.36" x2="86.5" y2="176.36" stroke="#8a8a8a" stroke-width="1" />
<line x1="1781.5" y1="176.36" x2="1785" y2="176.36" stroke="#8a8a8a" stroke-width="1" />
<text x="84" y="231.72" font-size="18" fill="#d2d2d2" text-anchor="end" >6750</text>
<text x="1784.5" y="231.72" font-size="18" fill="#d2d2d2" >6750</text>
<line x1="82.5" y1="225.22" x2="86.5" y2="225.22" stroke="#8a8a8a" stroke-width="1" />
<line x1="1781.5" y1="225.22" x2="1785" y2="225.22" stroke="#8a8a8a" stroke-width="1" />
<text x="84" y="280.58" font-size="18" fill="#d2d2d2" text-anchor="end" >6500</text>
<text x="1784.5" y="280.58" font-size="18" fill="#d2d2d2" >6500</text>
<line x1="82.5" y1="274.08" x2="86.5" y2="274.08" stroke="#8a8a8a" stroke-width="1" />
<line x1="1781.5" y1="274.08" x2="1785" y2="274.08" stroke="#8a8a8a" stroke-width="1" />
<text x="84" y="329.44" font-size="18" fill="#d2d2d2" text-anchor="end" >6250</text>
<text x="1784.5" y="329.44" font-size="18" fill="#d2d2d2" >6250</text>
<line x1="82.5" y1="322.94" x2="86.5" y2="322.94" stroke="#8a8a8a" stroke-width="1" />
<line x1="1781.5" y1="322.94" x2="1785" y2="322.94" stroke="#8a8a8a" stroke-width="1" />
<text x="84" y="378.3" font-size="18" fill="#d2d2d2" text-anchor="end" >6000</text>
<text x="1784.5" y="378.3" font-size="18" fill="#d2d2d2" >6000</text>
<line x1="82.5" y1="371.8" x2="86.5" y2="371.8" stroke="#8a8a8a" stroke-width="1" />
<line x1="1781.5" y1="371.8" x2="1785" y2="371.8" stroke="#8a8a8a" stroke-width="1" />
<text x="84" y="427.15999999999997" font-size="18" fill="#d2d2d2" text-anchor="end" >5750</text>
<text x="1784.5" y="427.15999999999997" font-size="18" fill="#d2d2d2" >5750</text>
<line x1="82.5" y1="420.65999999999997" x2="86.5" y2="420.65999999999997" stroke="#8a8a8a" stroke-width="1" />
<line x1="1781.5" y1="420.65999999999997" x2="1785" y2="420.65999999999997" stroke="#8a8a8a" stroke-width="1" />
<text x="84" y="476.02" font-size="18" fill="#d2d2d2" text-anchor="end" >5500</text>
<text x="1784.5" y="476.02" font-size="18" fill="#d2d2d2" >5500</text>
<line x1="82.5" y1="469.52" x2="86.5" y2="469.52" stroke="#8a8a8a" stroke-width="1" />
<line x1="1781.5" y1="469.52" x2="1785" y2="469.52" stroke="#8a8a8a" stroke-width="1" />
<text x="84" y="524.88" font-size="18" fill="#d2d2d2" text-anchor="end" >5250</text>
<text x="1784.5" y="524.88" font-size="18" fill="#d2d2d2" >5250</text>
<line x1="82.5" y1="518.38" x2="86.5" y2="518.38" stroke="#8a8a8a" stroke-width="1" />
<line x1="1781.5" y1="518.38" x2="1785" y2="518.38" stroke="#8a8a8a" stroke-width="1" />
<text x="84" y="573.74" font-size="18" fill="#d2d2d2" text-anchor="end" >5000</text>
<text x="1784.5" y="573.74" font-size="18" fill="#d2d2d2" >5000</text>
<line x1="82.5" y1="567.24" x2="86.5" y2="567.24" stroke="#8a8a8a" stroke-width="1" />
<line x1="1781.5" y1="567.24" x2="1785" y2="567.24" stroke="#8a8a8a" stroke-width="1" />
<clipPath id="c4750"><rect x="0" y="600" width="1904" height="16"/></clipPath>
<text x="84" y="622.6" font-size="18" fill="#d2d2d2" text-anchor="end" clip-path="url(#c4750)">4750</text>
<text x="1784.5" y="622.6" font-size="18" fill="#d2d2d2" clip-path="url(#c4750)">4750</text>
<rect x="1784.8" y="217.8" width="61" height="22.599999999999994" rx="3" fill="#2dbf2d"/>
<text x="1787.8" y="235.60000000000002" font-size="18" fill="#000" >6725.5</text>
<rect x="1784.8" y="244.9" width="71" height="22.599999999999994" rx="3" fill="#f7d54a"/>
<text x="1787.8" y="262.7" font-size="18" fill="#000" >6587.94</text>
<rect x="1784.8" y="351.7" width="71" height="22.600000000000023" rx="3" fill="#ffffff"/>
<text x="1787.8" y="369.5" font-size="18" fill="#000" >6039.45</text>
<g clip-path="url(#cmacd)">
<line x1="90" y1="682.5" x2="1781" y2="682.5" stroke="#5c5c5c" stroke-width="1" stroke-dasharray="1 5"/>
<line x1="90" y1="726.5" x2="1781" y2="726.5" stroke="#5c5c5c" stroke-width="1" stroke-dasharray="1 5"/>
<line x1="90" y1="770.5" x2="1781" y2="770.5" stroke="#5c5c5c" stroke-width="1" stroke-dasharray="1 5"/>
<line x1="152.5" y1="656" x2="152.5" y2="814" stroke="#5c5c5c" stroke-width="1" stroke-dasharray="1 5"/>
<line x1="251.5" y1="656" x2="251.5" y2="814" stroke="#5c5c5c" stroke-width="1" stroke-dasharray="1 5"/>
<line x1="351.5" y1="656" x2="351.5" y2="814" stroke="#5c5c5c" stroke-width="1" stroke-dasharray="1 5"/>
<line x1="441.5" y1="656" x2="441.5" y2="814" stroke="#5c5c5c" stroke-width="1" stroke-dasharray="1 5"/>
<line x1="545.5" y1="656" x2="545.5" y2="814" stroke="#5c5c5c" stroke-width="1" stroke-dasharray="1 5"/>
<line x1="635.5" y1="656" x2="635.5" y2="814" stroke="#5c5c5c" stroke-width="1" stroke-dasharray="1 5"/>
<line x1="730.5" y1="656" x2="730.5" y2="814" stroke="#5c5c5c" stroke-width="1" stroke-dasharray="1 5"/>
<line x1="821.5" y1="656" x2="821.5" y2="814" stroke="#5c5c5c" stroke-width="1" stroke-dasharray="1 5"/>
<line x1="906.5" y1="656" x2="906.5" y2="814" stroke="#5c5c5c" stroke-width="1" stroke-dasharray="1 5"/>
<line x1="1002.5" y1="656" x2="1002.5" y2="814" stroke="#5c5c5c" stroke-width="1" stroke-dasharray="1 5"/>
<line x1="1096.5" y1="656" x2="1096.5" y2="814" stroke="#5c5c5c" stroke-width="1" stroke-dasharray="1 5"/>
<line x1="1191.5" y1="656" x2="1191.5" y2="814" stroke="#5c5c5c" stroke-width="1" stroke-dasharray="1 5"/>
<line x1="1281.5" y1="656" x2="1281.5" y2="814" stroke="#5c5c5c" stroke-width="1" stroke-dasharray="1 5"/>
<line x1="1381.5" y1="656" x2="1381.5" y2="814" stroke="#5c5c5c" stroke-width="1" stroke-dasharray="1 5"/>
<line x1="1476.5" y1="656" x2="1476.5" y2="814" stroke="#5c5c5c" stroke-width="1" stroke-dasharray="1 5"/>
<line x1="1571.5" y1="656" x2="1571.5" y2="814" stroke="#5c5c5c" stroke-width="1" stroke-dasharray="1 5"/>
<line x1="1675.5" y1="656" x2="1675.5" y2="814" stroke="#5c5c5c" stroke-width="1" stroke-dasharray="1 5"/>
<line x1="1765.5" y1="656" x2="1765.5" y2="814" stroke="#5c5c5c" stroke-width="1" stroke-dasharray="1 5"/>
<path d="M91.5 814 V768.2 M96.5 814 V763.8 M100.5 814 V747.0 M105.5 814 V754.6 M109.5 814 V727.8 M114.5 814 V725.7 M118.5 814 V771.6 M123.5 814 V764.8 M127.5 814 V760.9 M132.5 814 V754.4 M136.5 814 V782.7 M141.5 814 V774.2 M145.5 814 V782.8 M150.5 814 V753.7 M154.5 814 V758.4 M159.5 814 V784.8 M163.5 814 V746.7 M168.5 814 V747.4 M172.5 814 V760.0 M177.5 814 V761.6 M181.5 814 V780.1 M186.5 814 V785.9 M190.5 814 V765.1 M195.5 814 V784.1 M200.5 814 V778.8 M204.5 814 V776.7 M209.5 814 V785.3 M213.5 814 V767.7 M218.5 814 V768.6 M222.5 814 V752.4 M227.5 814 V765.5 M231.5 814 V760.5 M236.5 814 V766.2 M240.5 814 V759.0 M245.5 814 V764.7 M249.5 814 V764.5 M254.5 814 V698.0 M258.5 814 V663.6 M263.5 814 V667.0 M267.5 814 V698.6 M272.5 814 V752.3 M276.5 814 V770.6 M281.5 814 V773.2 M285.5 814 V783.4 M290.5 814 V755.4 M294.5 814 V770.3 M299.5 814 V752.2 M303.5 814 V770.8 M308.5 814 V747.7 M313.5 814 V752.2 M317.5 814 V786.4 M322.5 814 V778.0 M326.5 814 V749.6 M331.5 814 V767.4 M335.5 814 V746.8 M340.5 814 V770.4 M344.5 814 V783.5 M349.5 814 V761.0 M353.5 814 V755.0 M358.5 814 V775.5 M362.5 814 V782.9 M367.5 814 V773.0 M371.5 814 V747.3 M376.5 814 V754.1 M380.5 814 V776.0 M385.5 814 V754.7 M389.5 814 V750.4 M394.5 814 V756.3 M398.5 814 V727.6 M403.5 814 V775.3 M407.5 814 V763.1 M412.5 814 V768.3 M416.5 814 V778.7 M421.5 814 V756.8 M426.5 814 V781.2 M430.5 814 V760.4 M435.5 814 V781.8 M439.5 814 V769.4 M444.5 814 V777.9 M448.5 814 V775.5 M453.5 814 V747.2 M457.5 814 V753.9 M462.5 814 V774.2 M466.5 814 V750.7 M471.5 814 V777.9 M475.5 814 V770.5 M480.5 814 V751.9 M484.5 814 V760.5 M489.5 814 V782.4 M493.5 814 V746.4 M498.5 814 V777.8 M502.5 814 V776.0 M507.5 814 V755.2 M511.5 814 V773.2 M516.5 814 V774.5 M520.5 814 V783.5 M525.5 814 V782.8 M529.5 814 V762.9 M534.5 814 V776.6 M539.5 814 V762.1 M543.5 814 V771.4 M548.5 814 V768.1 M552.5 814 V747.6 M557.5 814 V766.9 M561.5 814 V763.2 M566.5 814 V751.4 M570.5 814 V779.1 M575.5 814 V780.2 M579.5 814 V749.7 M584.5 814 V753.4 M588.5 814 V776.4 M593.5 814 V778.8 M597.5 814 V756.5 M602.5 814 V748.4 M606.5 814 V778.5 M611.5 814 V748.0 M615.5 814 V750.8 M620.5 814 V762.0 M624.5 814 V769.4 M629.5 814 V782.3 M633.5 814 V784.9 M638.5 814 V747.5 M642.5 814 V776.8 M647.5 814 V757.9 M652.5 814 V776.1 M656.5 814 V753.1 M661.5 814 V762.3 M665.5 814 V774.3 M670.5 814 V776.9 M674.5 814 V738.3 M679.5 814 V757.7 M683.5 814 V734.8 M688.5 814 V722.0 M692.5 814 V730.6 M697.5 814 V755.0 M701.5 814 V771.0 M706.5 814 V740.1 M710.5 814 V771.2 M715.5 814 V778.5 M719.5 814 V763.0 M724.5 814 V750.5 M728.5 814 V770.4 M733.5 814 V762.1 M737.5 814 V749.4 M742.5 814 V736.8 M746.5 814 V764.6 M751.5 814 V752.4 M755.5 814 V724.9 M760.5 814 V724.2 M765.5 814 V745.3 M769.5 814 V747.1 M774.5 814 V755.1 M778.5 814 V777.3 M783.5 814 V783.0 M787.5 814 V784.5 M792.5 814 V747.9 M796.5 814 V757.2 M801.5 814 V746.9 M805.5 814 V785.5 M810.5 814 V760.6 M814.5 814 V766.9 M819.5 814 V756.8 M823.5 814 V773.4 M828.5 814 V745.7 M832.5 814 V783.2 M837.5 814 V763.7 M841.5 814 V755.3 M846.5 814 V747.8 M850.5 814 V753.6 M855.5 814 V753.6 M859.5 814 V747.7 M864.5 814 V739.4 M868.5 814 V763.6 M873.5 814 V744.1 M878.5 814 V728.9 M882.5 814 V726.2 M887.5 814 V749.0 M891.5 814 V723.4 M896.5 814 V716.0 M900.5 814 V732.8 M905.5 814 V728.8 M909.5 814 V745.0 M914.5 814 V733.5 M918.5 814 V734.1 M923.5 814 V768.6 M927.5 814 V738.7 M932.5 814 V723.1 M936.5 814 V732.1 M941.5 814 V736.3 M945.5 814 V741.1 M950.5 814 V694.1 M954.5 814 V709.6 M959.5 814 V743.3 M963.5 814 V741.7 M968.5 814 V781.7 M972.5 814 V755.1 M977.5 814 V785.0 M981.5 814 V761.7 M986.5 814 V766.2 M991.5 814 V775.5 M995.5 814 V751.1 M1000.5 814 V750.8 M1004.5 814 V725.1 M1009.5 814 V669.3 M1013.5 814 V707.6 M1018.5 814 V724.7 M1022.5 814 V686.9 M1027.5 814 V655.4 M1031.5 814 V726.6 M1036.5 814 V743.2 M1040.5 814 V698.2 M1045.5 814 V724.2 M1049.5 814 V743.5 M1054.5 814 V721.4 M1058.5 814 V758.6 M1063.5 814 V745.0 M1067.5 814 V771.8 M1072.5 814 V763.6 M1076.5 814 V749.4 M1081.5 814 V746.8 M1085.5 814 V749.4 M1090.5 814 V770.4 M1094.5 814 V762.6 M1099.5 814 V773.6 M1104.5 814 V780.9 M1108.5 814 V766.4 M1113.5 814 V752.6 M1117.5 814 V752.1 M1122.5 814 V757.7 M1126.5 814 V748.0 M1131.5 814 V775.3 M1135.5 814 V779.6 M1140.5 814 V768.2 M1144.5 814 V775.3 M1149.5 814 V777.8 M1153.5 814 V769.7 M1158.5 814 V761.1 M1162.5 814 V766.5 M1167.5 814 V773.7 M1171.5 814 V752.5 M1176.5 814 V746.7 M1180.5 814 V768.2 M1185.5 814 V783.4 M1189.5 814 V785.2 M1194.5 814 V751.1 M1198.5 814 V784.8 M1203.5 814 V757.8 M1207.5 814 V763.4 M1212.5 814 V774.0 M1217.5 814 V754.4 M1221.5 814 V785.7 M1226.5 814 V780.8 M1230.5 814 V763.6 M1235.5 814 V770.8 M1239.5 814 V699.5 M1244.5 814 V759.0 M1248.5 814 V777.9 M1253.5 814 V784.4 M1257.5 814 V761.0 M1262.5 814 V768.4 M1266.5 814 V761.0 M1271.5 814 V760.0 M1275.5 814 V753.8 M1280.5 814 V747.7 M1284.5 814 V758.8 M1289.5 814 V778.4 M1293.5 814 V767.2 M1298.5 814 V779.2 M1302.5 814 V786.0 M1307.5 814 V767.4 M1311.5 814 V757.6 M1316.5 814 V779.2 M1320.5 814 V775.4 M1325.5 814 V772.5 M1330.5 814 V758.2 M1334.5 814 V765.4 M1339.5 814 V761.6 M1343.5 814 V755.9 M1348.5 814 V770.5 M1352.5 814 V754.4 M1357.5 814 V749.8 M1361.5 814 V782.9 M1366.5 814 V748.7 M1370.5 814 V757.2 M1375.5 814 V781.2 M1379.5 814 V768.1 M1384.5 814 V761.1 M1388.5 814 V749.6 M1393.5 814 V771.2 M1397.5 814 V763.4 M1402.5 814 V750.9 M1406.5 814 V754.2 M1411.5 814 V748.2 M1415.5 814 V767.7 M1420.5 814 V760.1 M1424.5 814 V778.2 M1429.5 814 V757.2 M1433.5 814 V753.3 M1438.5 814 V760.5 M1443.5 814 V757.4 M1447.5 814 V777.8 M1452.5 814 V750.0 M1456.5 814 V746.8 M1461.5 814 V746.9 M1465.5 814 V764.7 M1470.5 814 V754.5 M1474.5 814 V773.5 M1479.5 814 V749.6 M1483.5 814 V751.8 M1488.5 814 V772.4 M1492.5 814 V783.1 M1497.5 814 V768.6 M1501.5 814 V764.2 M1506.5 814 V755.0 M1510.5 814 V761.6 M1515.5 814 V769.7 M1519.5 814 V701.2 M1524.5 814 V770.2 M1528.5 814 V749.6 M1533.5 814 V779.3 M1537.5 814 V772.9 M1542.5 814 V754.6 M1546.5 814 V780.8 M1551.5 814 V780.5" stroke="#1a467e" stroke-width="1"/>
<path d="M114.5 739 V738.6 M118.5 739 V734.9 M123.5 739 V732.6 M136.5 739 V732.6 M141.5 739 V732.4 M313.5 739 V734.9 M317.5 739 V729.3 M322.5 739 V723.6 M326.5 739 V718.0 M331.5 739 V712.8 M335.5 739 V709.4 M340.5 739 V708.2 M344.5 739 V707.7 M349.5 739 V707.2 M412.5 739 V736.7 M416.5 739 V734.6 M421.5 739 V732.7 M426.5 739 V730.9 M430.5 739 V729.0 M457.5 739 V731.0 M570.5 739 V737.7 M575.5 739 V736.6 M579.5 739 V735.5 M584.5 739 V734.5 M588.5 739 V733.5 M593.5 739 V732.5 M597.5 739 V731.6 M602.5 739 V731.1 M606.5 739 V731.1 M638.5 739 V737.0 M642.5 739 V736.9 M647.5 739 V736.9 M652.5 739 V736.9 M656.5 739 V736.8 M661.5 739 V736.8 M787.5 739 V738.7 M792.5 739 V737.2 M796.5 739 V735.1 M801.5 739 V733.0 M805.5 739 V731.0 M810.5 739 V729.2 M814.5 739 V727.5 M819.5 739 V725.7 M986.5 739 V733.5 M991.5 739 V730.4 M995.5 739 V727.3 M1000.5 739 V724.5 M1004.5 739 V722.0 M1076.5 739 V729.8 M1081.5 739 V714.8 M1085.5 739 V709.2 M1090.5 739 V707.3 M1094.5 739 V705.3 M1099.5 739 V703.4 M1104.5 739 V701.4 M1108.5 739 V701.1 M1131.5 739 V702.0 M1167.5 739 V735.2 M1275.5 739 V738.8 M1280.5 739 V738.1 M1284.5 739 V737.3 M1289.5 739 V736.2 M1293.5 739 V735.0 M1298.5 739 V733.8 M1302.5 739 V732.9 M1307.5 739 V732.6 M1311.5 739 V732.2 M1316.5 739 V730.8 M1443.5 739 V737.5 M1447.5 739 V737.3 M1452.5 739 V737.0 M1456.5 739 V736.3 M1461.5 739 V736.1 M1510.5 739 V738.8 M1515.5 739 V738.4 M1519.5 739 V738.0 M1524.5 739 V736.9 M1528.5 739 V735.7 M1533.5 739 V734.5 M1537.5 739 V733.2 M1542.5 739 V731.7 M1546.5 739 V730.1 M1551.5 739 V728.9" stroke="#3ee83e" stroke-width="1.2"/>
<path d="M127.5 739 V732.6 M132.5 739 V732.7 M145.5 739 V732.5 M150.5 739 V732.6 M154.5 739 V732.7 M159.5 739 V732.8 M163.5 739 V733.9 M168.5 739 V736.0 M172.5 739 V736.7 M177.5 739 V737.3 M181.5 739 V737.7 M186.5 739 V738.2 M190.5 739 V738.6 M353.5 739 V713.0 M358.5 739 V720.3 M362.5 739 V727.7 M367.5 739 V733.3 M371.5 739 V738.6 M435.5 739 V729.2 M439.5 739 V729.4 M444.5 739 V729.7 M448.5 739 V730.4 M453.5 739 V731.3 M462.5 739 V732.6 M466.5 739 V734.1 M471.5 739 V735.6 M475.5 739 V737.2 M480.5 739 V738.7 M611.5 739 V731.9 M615.5 739 V732.7 M620.5 739 V733.5 M624.5 739 V734.8 M629.5 739 V736.2 M633.5 739 V737.1 M665.5 739 V736.9 M670.5 739 V737.3 M674.5 739 V737.6 M679.5 739 V737.9 M683.5 739 V738.2 M688.5 739 V738.5 M692.5 739 V738.8 M823.5 739 V726.1 M828.5 739 V727.7 M832.5 739 V727.8 M837.5 739 V729.7 M841.5 739 V732.0 M846.5 739 V734.3 M850.5 739 V735.1 M855.5 739 V736.0 M859.5 739 V736.8 M864.5 739 V737.6 M1009.5 739 V724.4 M1013.5 739 V730.5 M1018.5 739 V732.6 M1022.5 739 V739.0 M1113.5 739 V701.1 M1117.5 739 V701.2 M1122.5 739 V702.7 M1126.5 739 V702.8 M1135.5 739 V713.1 M1140.5 739 V724.3 M1144.5 739 V731.1 M1149.5 739 V733.2 M1153.5 739 V734.1 M1158.5 739 V734.9 M1162.5 739 V735.5 M1320.5 739 V731.3 M1325.5 739 V733.5 M1330.5 739 V735.7 M1334.5 739 V737.9 M1465.5 739 V737.0 M1470.5 739 V737.9 M1474.5 739 V738.8" stroke="#1f7a1f" stroke-width="1.2"/>
<path d="M91.5 739 V748.6 M195.5 739 V739.1 M200.5 739 V739.6 M204.5 739 V740.0 M209.5 739 V740.6 M213.5 739 V742.5 M218.5 739 V743.5 M222.5 739 V743.7 M227.5 739 V743.9 M231.5 739 V744.5 M236.5 739 V745.5 M240.5 739 V746.5 M245.5 739 V747.1 M249.5 739 V747.5 M254.5 739 V747.9 M258.5 739 V748.2 M263.5 739 V748.6 M267.5 739 V748.9 M272.5 739 V749.4 M276.5 739 V750.0 M281.5 739 V750.6 M285.5 739 V751.2 M376.5 739 V743.9 M380.5 739 V746.8 M385.5 739 V752.1 M389.5 739 V757.4 M484.5 739 V740.3 M489.5 739 V742.1 M493.5 739 V743.4 M498.5 739 V744.2 M502.5 739 V745.0 M529.5 739 V739.8 M534.5 739 V740.4 M539.5 739 V741.1 M543.5 739 V741.8 M557.5 739 V741.5 M697.5 739 V739.2 M701.5 739 V739.7 M706.5 739 V740.1 M710.5 739 V740.6 M715.5 739 V741.1 M719.5 739 V741.5 M724.5 739 V742.0 M728.5 739 V743.0 M733.5 739 V744.6 M737.5 739 V746.2 M742.5 739 V747.7 M868.5 739 V739.0 M873.5 739 V740.6 M878.5 739 V742.1 M882.5 739 V742.2 M887.5 739 V743.0 M891.5 739 V744.4 M896.5 739 V745.8 M900.5 739 V747.1 M905.5 739 V747.9 M909.5 739 V748.0 M914.5 739 V748.1 M918.5 739 V748.2 M923.5 739 V748.3 M927.5 739 V748.4 M932.5 739 V748.8 M936.5 739 V750.1 M941.5 739 V751.4 M945.5 739 V752.8 M950.5 739 V752.9 M1027.5 739 V743.9 M1031.5 739 V744.7 M1036.5 739 V745.5 M1040.5 739 V746.2 M1045.5 739 V748.4 M1049.5 739 V750.6 M1054.5 739 V752.1 M1058.5 739 V753.6 M1063.5 739 V755.1 M1171.5 739 V739.1 M1176.5 739 V743.5 M1180.5 739 V747.5 M1185.5 739 V748.0 M1189.5 739 V748.6 M1194.5 739 V749.7 M1198.5 739 V751.0 M1203.5 739 V752.7 M1207.5 739 V754.7 M1212.5 739 V755.1 M1230.5 739 V747.4 M1235.5 739 V747.5 M1339.5 739 V739.4 M1343.5 739 V740.9 M1348.5 739 V742.3 M1352.5 739 V743.7 M1357.5 739 V745.1 M1361.5 739 V745.8 M1366.5 739 V746.1 M1370.5 739 V746.4 M1375.5 739 V746.7 M1379.5 739 V747.0 M1384.5 739 V747.3 M1479.5 739 V739.7 M1483.5 739 V739.9 M1488.5 739 V740.0" stroke="#e01818" stroke-width="1.2"/>
<path d="M96.5 739 V748.2 M100.5 739 V747.7 M105.5 739 V745.0 M109.5 739 V742.0 M290.5 739 V749.4 M294.5 739 V747.7 M299.5 739 V746.5 M303.5 739 V743.2 M308.5 739 V739.9 M394.5 739 V756.7 M398.5 739 V755.6 M403.5 739 V750.2 M407.5 739 V742.3 M507.5 739 V744.5 M511.5 739 V743.1 M516.5 739 V741.7 M520.5 739 V740.2 M525.5 739 V739.1 M548.5 739 V741.4 M552.5 739 V740.8 M561.5 739 V740.7 M566.5 739 V739.2 M746.5 739 V746.5 M751.5 739 V745.4 M755.5 739 V744.2 M760.5 739 V743.5 M765.5 739 V743.2 M769.5 739 V742.9 M774.5 739 V742.5 M778.5 739 V740.2 M783.5 739 V739.5 M954.5 739 V752.4 M959.5 739 V752.0 M963.5 739 V751.1 M968.5 739 V748.9 M972.5 739 V746.7 M977.5 739 V744.5 M981.5 739 V739.0 M1067.5 739 V751.9 M1072.5 739 V744.8 M1217.5 739 V752.2 M1221.5 739 V749.3 M1226.5 739 V747.4 M1239.5 739 V747.0 M1244.5 739 V745.7 M1248.5 739 V744.4 M1253.5 739 V743.0 M1257.5 739 V741.7 M1262.5 739 V740.9 M1266.5 739 V740.2 M1271.5 739 V739.5 M1388.5 739 V746.9 M1393.5 739 V746.2 M1397.5 739 V745.6 M1402.5 739 V744.9 M1406.5 739 V744.2 M1411.5 739 V743.3 M1415.5 739 V742.9 M1420.5 739 V742.7 M1424.5 739 V742.5 M1429.5 739 V742.3 M1433.5 739 V740.7 M1438.5 739 V739.1 M1492.5 739 V739.8 M1497.5 739 V739.7 M1501.5 739 V739.5 M1506.5 739 V739.2" stroke="#7a1515" stroke-width="1.2"/>
<line x1="87" y1="739.3" x2="1777" y2="739.3" stroke="#e050e0" stroke-width="1.3" />
<path d="M86.7 721.7 L100.0 724.0 L106.0 726.0 L109.0 745.0 L111.5 779.8 L114.0 745.0 L118.0 728.0 L140.0 724.0 L200.0 723.0 L260.0 724.0 L336.0 724.0 L380.0 723.0 L386.0 740.0 L391.5 782.0 L395.0 745.0 L400.0 727.0 L500.0 721.0 L600.0 720.0 L675.6 720.8 L679.0 735.0 L683.5 782.3 L687.0 745.0 L694.5 724.0 L789.0 724.0 L883.6 720.2 L931.0 720.2 L943.5 722.0 L949.5 725.7 L951.5 760.0 L954.5 782.3 L958.0 760.0 L964.0 730.0 L971.5 723.6 L997.8 723.0 L1013.5 721.0 L1030.3 712.0 L1040.8 718.4 L1053.4 720.5 L1066.0 718.4 L1087.0 722.0 L1108.0 722.6 L1135.8 723.2 L1150.0 723.5 L1190.3 725.9 L1230.7 724.9 L1235.7 741.0 L1239.0 786.4 L1244.0 747.7 L1250.8 732.6 L1284.5 731.0 L1318.0 729.2 L1385.3 729.2 L1419.0 730.3 L1452.5 724.2 L1513.0 727.6 L1516.4 754.5 L1519.7 788.0 L1524.8 754.5 L1533.2 729.2 L1550.0 728.2" fill="none" stroke="#1ec8d8" stroke-width="1.5" stroke-linejoin="round" />
<path d="M86.7 719.3 C90.8 720.4 103.0 726.3 111.0 726.0 C119.0 725.7 125.0 720.7 134.5 717.6 C144.0 714.5 159.1 709.2 168.0 707.6 C176.9 706.0 180.4 707.1 188.2 708.2 C196.0 709.3 206.0 710.5 215.0 714.3 C224.0 718.1 233.0 724.8 242.0 731.0 C251.0 737.2 260.6 745.7 269.0 751.3 C277.4 756.9 285.7 761.4 292.4 764.7 C299.1 768.1 303.0 773.6 309.2 771.4 C315.4 769.2 322.7 759.7 329.4 751.3 C336.1 742.9 344.0 728.6 349.6 721.0 C355.2 713.4 358.5 708.1 363.0 705.9 C367.5 703.7 370.9 704.5 376.5 707.6 C382.1 710.7 391.0 720.2 396.6 724.4 C402.2 728.6 404.4 733.4 410.0 732.8 C415.6 732.2 423.6 725.2 430.3 721.0 C437.0 716.8 443.7 710.4 450.4 707.6 C457.1 704.8 463.9 704.2 470.6 704.2 C477.3 704.2 481.8 704.8 490.8 707.6 C499.8 710.4 514.3 716.8 524.4 721.0 C534.5 725.2 543.5 730.5 551.3 732.8 C559.1 735.0 563.6 735.1 571.4 734.5 C579.2 733.9 589.9 731.4 598.3 729.4 C606.7 727.4 614.8 723.8 621.8 722.7 C628.8 721.6 633.1 722.8 640.0 722.7 C646.9 722.7 653.9 722.2 663.0 722.4 C672.1 722.6 684.0 721.1 694.5 724.0 C705.0 726.9 715.5 735.3 726.0 739.8 C736.5 744.3 749.2 748.4 757.6 750.8 C766.0 753.2 768.6 755.0 776.5 754.0 C784.4 753.0 796.5 748.7 804.9 744.5 C813.3 740.3 820.2 732.4 827.0 728.7 C833.8 725.0 837.4 722.6 845.8 722.4 C854.2 722.1 867.8 724.3 877.3 727.2 C886.8 730.1 893.7 734.0 902.6 739.8 C911.5 745.6 920.9 755.5 930.9 761.8 C940.9 768.1 953.5 773.9 962.4 777.6 C971.3 781.3 977.7 784.4 984.5 783.9 C991.3 783.4 998.7 777.4 1003.4 774.4 C1008.1 771.4 1009.2 765.9 1012.9 765.6 C1016.6 765.4 1019.7 770.1 1025.5 772.9 C1031.3 775.7 1040.7 778.6 1047.5 782.3 C1054.3 786.0 1060.6 794.6 1066.4 794.9 C1072.2 795.2 1075.9 792.0 1082.2 783.9 C1088.5 775.8 1097.5 758.7 1104.3 746.1 C1111.1 733.5 1117.4 718.5 1123.2 708.2 C1129.0 698.0 1132.6 689.7 1138.9 684.6 C1145.2 679.5 1154.2 678.8 1161.0 677.4 C1167.8 676.0 1173.3 673.6 1179.9 676.1 C1186.5 678.6 1193.1 687.1 1200.4 692.3 C1207.8 697.5 1214.5 703.1 1224.0 707.4 C1233.5 711.7 1247.5 717.1 1257.6 718.2 C1267.7 719.3 1275.5 716.7 1284.5 714.1 C1293.5 711.5 1302.9 705.1 1311.3 702.4 C1319.7 699.7 1327.1 698.0 1334.9 698.0 C1342.8 698.0 1350.0 699.7 1358.4 702.4 C1366.8 705.1 1376.3 710.2 1385.3 714.1 C1394.3 718.0 1404.9 723.2 1412.2 725.9 C1419.5 728.6 1422.3 730.1 1429.0 730.3 C1435.7 730.5 1443.0 727.6 1452.5 726.9 C1462.0 726.2 1474.9 725.9 1486.1 725.9 C1497.3 725.9 1509.0 728.4 1519.7 726.9 C1530.4 725.4 1545.0 718.5 1550.0 716.8" fill="none" stroke="#d8cca0" stroke-width="1.5" stroke-linejoin="round" />
<path d="M86.7 729.4 C89.0 729.8 96.8 732.1 100.8 731.8 C104.8 731.5 107.6 730.3 111.0 727.7 C114.4 725.1 116.0 719.1 121.0 716.0 C126.0 712.9 134.3 711.1 141.0 709.0 C147.7 706.9 155.7 704.0 161.3 703.5 C166.9 703.0 170.3 705.2 174.8 705.9 C179.3 706.6 182.6 706.2 188.2 707.6 C193.8 709.0 201.7 710.9 208.4 714.3 C215.1 717.6 221.9 722.7 228.6 727.7 C235.3 732.7 242.0 738.9 248.7 744.5 C255.4 750.1 262.7 756.5 268.9 761.3 C275.1 766.1 280.6 770.9 285.7 773.1 C290.8 775.4 295.3 775.1 299.2 774.8 C303.1 774.5 305.3 777.0 309.2 771.4 C313.1 765.8 318.2 751.3 322.7 741.2 C327.2 731.1 331.6 719.6 336.1 710.9 C340.6 702.2 345.1 691.6 349.6 689.1 C354.1 686.6 358.0 691.0 363.0 695.8 C368.0 700.5 375.3 710.6 379.8 717.6 C384.3 724.6 386.5 733.6 389.9 737.8 C393.3 742.0 396.1 744.6 400.0 742.9 C403.9 741.2 408.3 733.0 413.4 727.7 C418.4 722.4 424.7 715.4 430.3 710.9 C435.9 706.4 442.5 702.9 447.0 700.8 C451.5 698.7 453.2 698.5 457.1 698.5 C461.0 698.5 466.1 699.3 470.6 700.8 C475.1 702.3 478.4 704.5 484.0 707.6 C489.6 710.7 497.5 717.1 504.2 719.3 C510.9 721.5 517.7 718.8 524.4 721.0 C531.1 723.2 538.9 730.3 544.5 732.8 C550.1 735.3 553.5 736.1 558.0 736.1 C562.5 736.1 565.8 734.8 571.4 732.8 C577.0 730.8 586.0 726.6 591.6 724.4 C597.2 722.1 600.0 720.4 605.0 719.3 C610.0 718.2 617.4 717.4 621.8 717.6 C626.2 717.9 624.6 720.4 631.5 720.8 C638.4 721.2 652.5 719.7 663.0 720.2 C673.5 720.7 684.0 720.2 694.5 724.0 C705.0 727.8 718.1 738.0 726.0 743.0 C733.9 748.0 736.5 751.9 741.8 754.0 C747.1 756.1 752.4 755.0 757.6 755.5 C762.9 756.0 768.1 758.1 773.3 757.1 C778.5 756.1 783.7 752.6 789.0 749.2 C794.3 745.8 799.6 741.6 804.9 736.6 C810.2 731.6 815.9 722.8 820.6 719.3 C825.3 715.8 829.0 715.8 833.2 715.5 C837.4 715.2 840.5 716.3 845.8 717.7 C851.0 719.1 858.4 721.4 864.7 724.0 C871.0 726.6 877.8 729.8 883.6 733.5 C889.4 737.2 894.1 741.9 899.4 746.1 C904.7 750.3 910.0 754.5 915.2 758.7 C920.5 762.9 925.6 767.1 930.9 771.3 C936.1 775.5 941.5 780.8 946.7 783.9 C952.0 787.0 957.1 789.7 962.4 790.2 C967.6 790.7 972.9 790.7 978.2 787.0 C983.5 783.3 989.3 773.6 994.0 768.1 C998.7 762.6 1002.9 755.6 1006.6 754.0 C1010.3 752.4 1012.9 754.8 1016.0 758.7 C1019.1 762.6 1021.3 772.9 1025.5 777.6 C1029.7 782.3 1036.5 783.3 1041.2 787.0 C1045.9 790.7 1050.1 795.9 1053.8 799.6 C1057.5 803.3 1060.7 808.0 1063.3 809.1 C1065.9 810.2 1066.4 814.9 1069.6 806.0 C1072.8 797.1 1076.4 771.8 1082.2 755.5 C1088.0 739.2 1098.5 720.3 1104.3 708.2 C1110.1 696.1 1112.5 691.1 1116.9 683.0 C1121.4 674.9 1126.3 660.5 1131.0 659.4 C1135.7 658.2 1139.2 673.8 1145.2 676.1 C1151.2 678.4 1159.8 670.1 1167.3 673.1 C1174.8 676.1 1183.1 686.9 1190.3 694.0 C1197.5 701.1 1204.9 712.2 1210.5 715.8 C1216.1 719.4 1219.5 715.1 1224.0 715.8 C1228.5 716.5 1231.8 719.4 1237.4 720.2 C1243.0 721.0 1249.8 722.1 1257.6 720.8 C1265.4 719.5 1277.2 715.8 1284.5 712.4 C1291.8 709.0 1295.7 704.1 1301.3 700.7 C1306.9 697.4 1312.4 692.9 1318.0 692.3 C1323.6 691.7 1329.3 695.1 1334.9 697.3 C1340.5 699.5 1346.1 702.9 1351.7 705.7 C1357.3 708.5 1362.9 711.3 1368.5 714.1 C1374.1 716.9 1378.6 720.0 1385.3 722.5 C1392.0 725.0 1401.5 727.4 1408.8 729.2 C1416.1 731.1 1423.4 734.0 1429.0 733.6 C1434.6 733.2 1437.4 728.6 1442.4 726.9 C1447.4 725.2 1453.0 723.5 1459.2 723.5 C1465.4 723.5 1472.1 726.3 1479.4 726.9 C1486.7 727.5 1496.3 727.1 1503.0 726.9 C1509.7 726.7 1514.1 727.8 1519.7 725.9 C1525.3 724.0 1531.5 719.0 1536.6 715.8 C1541.6 712.6 1547.8 708.2 1550.0 706.7" fill="none" stroke="#22c8d8" stroke-width="1.6" stroke-linejoin="round" />
</g>
<text x="84" y="678.9" font-size="18" fill="#d2d2d2" text-anchor="end" >200</text>
<line x1="82.5" y1="672.4" x2="86.5" y2="672.4" stroke="#8a8a8a" stroke-width="1" />
<text x="84" y="778.7" font-size="18" fill="#d2d2d2" text-anchor="end" >-100</text>
<line x1="82.5" y1="772.2" x2="86.5" y2="772.2" stroke="#8a8a8a" stroke-width="1" />
<text x="84" y="813.0" font-size="18" fill="#d2d2d2" text-anchor="end" >-200</text>
<line x1="82.5" y1="806.5" x2="86.5" y2="806.5" stroke="#8a8a8a" stroke-width="1" />
<rect x="12" y="693.1" width="72" height="23.199999999999932" rx="3" fill="#00f0f0"/>
<text x="15" y="711.2" font-size="18" fill="#000" >98.0742</text>
<rect x="67" y="726.4" width="17" height="23.399999999999977" rx="3" fill="#f060f0"/>
<text x="70" y="744.5999999999999" font-size="18" fill="#000" >0</text>
<text x="1784.5" y="688.7" font-size="18" fill="#d2d2d2" >3</text>
<line x1="1781.5" y1="682.2" x2="1785" y2="682.2" stroke="#8a8a8a" stroke-width="1" />
<text x="1784.5" y="776.8" font-size="18" fill="#d2d2d2" >1</text>
<line x1="1781.5" y1="770.3" x2="1785" y2="770.3" stroke="#8a8a8a" stroke-width="1" />
<clipPath id="c0v"><rect x="1780" y="800" width="30" height="14"/></clipPath>
<text x="1784.5" y="820.8" font-size="18" fill="#d2d2d2" clip-path="url(#c0v)">0</text>
<rect x="1784.8" y="716" width="71" height="22.5" rx="3" fill="#00f0f0"/>
<text x="1787.8" y="733.75" font-size="18" fill="#000" >1.94041</text>
<text x="1869" y="730" font-size="17" fill="#d2d2d2" text-anchor="middle" transform="rotate(-90 1869 730)">&lt;millions&gt;</text>
<g clip-path="url(#crsi)">
<line x1="90" y1="860.5" x2="1781" y2="860.5" stroke="#5c5c5c" stroke-width="1" stroke-dasharray="1 5"/>
<line x1="90" y1="911.5" x2="1781" y2="911.5" stroke="#5c5c5c" stroke-width="1" stroke-dasharray="1 5"/>
<line x1="90" y1="960.5" x2="1781" y2="960.5" stroke="#5c5c5c" stroke-width="1" stroke-dasharray="1 5"/>
<line x1="152.5" y1="853" x2="152.5" y2="1010" stroke="#5c5c5c" stroke-width="1" stroke-dasharray="1 5"/>
<line x1="152.5" y1="1004" x2="152.5" y2="1010" stroke="#8a8a8a" stroke-width="1" />
<line x1="251.5" y1="853" x2="251.5" y2="1010" stroke="#5c5c5c" stroke-width="1" stroke-dasharray="1 5"/>
<line x1="251.5" y1="1004" x2="251.5" y2="1010" stroke="#8a8a8a" stroke-width="1" />
<line x1="351.5" y1="853" x2="351.5" y2="1010" stroke="#5c5c5c" stroke-width="1" stroke-dasharray="1 5"/>
<line x1="351.5" y1="1004" x2="351.5" y2="1010" stroke="#8a8a8a" stroke-width="1" />
<line x1="441.5" y1="853" x2="441.5" y2="1010" stroke="#5c5c5c" stroke-width="1" stroke-dasharray="1 5"/>
<line x1="441.5" y1="1004" x2="441.5" y2="1010" stroke="#8a8a8a" stroke-width="1" />
<line x1="545.5" y1="853" x2="545.5" y2="1010" stroke="#5c5c5c" stroke-width="1" stroke-dasharray="1 5"/>
<line x1="545.5" y1="1004" x2="545.5" y2="1010" stroke="#8a8a8a" stroke-width="1" />
<line x1="635.5" y1="853" x2="635.5" y2="1010" stroke="#5c5c5c" stroke-width="1" stroke-dasharray="1 5"/>
<line x1="635.5" y1="1004" x2="635.5" y2="1010" stroke="#8a8a8a" stroke-width="1" />
<line x1="730.5" y1="853" x2="730.5" y2="1010" stroke="#5c5c5c" stroke-width="1" stroke-dasharray="1 5"/>
<line x1="730.5" y1="1004" x2="730.5" y2="1010" stroke="#8a8a8a" stroke-width="1" />
<line x1="821.5" y1="853" x2="821.5" y2="1010" stroke="#5c5c5c" stroke-width="1" stroke-dasharray="1 5"/>
<line x1="821.5" y1="1004" x2="821.5" y2="1010" stroke="#8a8a8a" stroke-width="1" />
<line x1="906.5" y1="853" x2="906.5" y2="1010" stroke="#5c5c5c" stroke-width="1" stroke-dasharray="1 5"/>
<line x1="906.5" y1="1004" x2="906.5" y2="1010" stroke="#8a8a8a" stroke-width="1" />
<line x1="1002.5" y1="853" x2="1002.5" y2="1010" stroke="#5c5c5c" stroke-width="1" stroke-dasharray="1 5"/>
<line x1="1002.5" y1="1004" x2="1002.5" y2="1010" stroke="#8a8a8a" stroke-width="1" />
<line x1="1096.5" y1="853" x2="1096.5" y2="1010" stroke="#5c5c5c" stroke-width="1" stroke-dasharray="1 5"/>
<line x1="1096.5" y1="1004" x2="1096.5" y2="1010" stroke="#8a8a8a" stroke-width="1" />
<line x1="1191.5" y1="853" x2="1191.5" y2="1010" stroke="#5c5c5c" stroke-width="1" stroke-dasharray="1 5"/>
<line x1="1191.5" y1="1004" x2="1191.5" y2="1010" stroke="#8a8a8a" stroke-width="1" />
<line x1="1281.5" y1="853" x2="1281.5" y2="1010" stroke="#5c5c5c" stroke-width="1" stroke-dasharray="1 5"/>
<line x1="1281.5" y1="1004" x2="1281.5" y2="1010" stroke="#8a8a8a" stroke-width="1" />
<line x1="1381.5" y1="853" x2="1381.5" y2="1010" stroke="#5c5c5c" stroke-width="1" stroke-dasharray="1 5"/>
<line x1="1381.5" y1="1004" x2="1381.5" y2="1010" stroke="#8a8a8a" stroke-width="1" />
<line x1="1476.5" y1="853" x2="1476.5" y2="1010" stroke="#5c5c5c" stroke-width="1" stroke-dasharray="1 5"/>
<line x1="1476.5" y1="1004" x2="1476.5" y2="1010" stroke="#8a8a8a" stroke-width="1" />
<line x1="1571.5" y1="853" x2="1571.5" y2="1010" stroke="#5c5c5c" stroke-width="1" stroke-dasharray="1 5"/>
<line x1="1571.5" y1="1004" x2="1571.5" y2="1010" stroke="#8a8a8a" stroke-width="1" />
<line x1="1675.5" y1="853" x2="1675.5" y2="1010" stroke="#5c5c5c" stroke-width="1" stroke-dasharray="1 5"/>
<line x1="1675.5" y1="1004" x2="1675.5" y2="1010" stroke="#8a8a8a" stroke-width="1" />
<line x1="1765.5" y1="853" x2="1765.5" y2="1010" stroke="#5c5c5c" stroke-width="1" stroke-dasharray="1 5"/>
<line x1="1765.5" y1="1004" x2="1765.5" y2="1010" stroke="#8a8a8a" stroke-width="1" />
<line x1="87" y1="884.5" x2="1781" y2="884.5" stroke="#f0e4a0" stroke-width="1.2" />
<line x1="87" y1="984.5" x2="1781" y2="984.5" stroke="#f0e4a0" stroke-width="1.2" />
<clipPath id="rsiMid"><rect x="87" y="884.8" width="1700" height="99.5"/></clipPath>
<clipPath id="rsiHi"><rect x="87" y="840" width="1700" height="44.8"/></clipPath>
<clipPath id="rsiLo"><rect x="87" y="984.3" width="1700" height="30"/></clipPath>
<path d="M86.7 905.8 L95.8 895.7 L100.8 883.9 L109.2 884.6 L113.6 863.7 L118.3 861.4 L122.7 871.5 L127.7 875.5 L131.8 884.9 L137.8 881.6 L142.9 880.5 L146.2 878.2 L150.6 887.3 L154.6 888.3 L161.3 878.9 L168.1 870.5 L174.8 865.4 L177.5 865.4 L181.5 856.3 L186.6 883.9 L191.6 877.2 L199.3 868.8 L205.0 902.4 L213.4 934.3 L218.5 920.9 L223.5 922.6 L226.9 952.8 L231.9 960.5 L235.3 946.1 L240.3 944.4 L244.7 956.2 L249.4 927.6 L255.5 949.5 L262.2 978.0 L267.2 978.0 L272.3 983.1 L276.3 951.1 L285.0 947.8 L290.8 932.6 L295.8 927.6 L299.8 915.2 L305.9 910.8 L309.2 906.4 L316.0 905.1 L322.7 914.2 L326.0 906.4 L331.1 910.8 L336.1 910.8 L339.5 920.9 L347.9 910.8 L352.3 934.3 L361.3 942.1 L366.4 961.2 L371.4 942.7 L374.8 939.4 L383.2 924.2 L389.9 915.2 L394.0 905.8 L401.7 904.1 L406.7 895.0 L411.8 899.0 L420.2 894.0 L426.9 895.7 L433.6 895.7 L437.0 899.0 L443.7 910.8 L452.1 907.4 L456.5 915.8 L458.8 905.8 L462.2 919.2 L470.6 903.0 L480.7 897.4 L484.7 889.0 L489.1 905.8 L494.1 902.4 L502.5 896.7 L510.9 904.1 L516.0 920.9 L522.7 921.9 L531.1 915.2 L534.5 910.8 L539.5 924.2 L543.9 954.5 L547.9 949.5 L552.9 951.1 L561.3 899.0 L571.4 891.6 L578.2 895.7 L583.2 895.0 L591.6 929.3 L601.7 921.9 L615.1 914.2 L620.0 902.2 L625.0 897.8 L629.4 907.2 L635.1 898.8 L641.8 895.5 L647.6 889.7 L651.9 893.1 L656.3 892.1 L660.3 907.2 L665.4 911.3 L669.7 902.2 L674.5 914.0 L678.8 917.3 L683.2 891.1 L687.2 900.5 L692.3 953.6 L696.6 952.6 L710.1 915.6 L714.1 917.3 L723.5 949.2 L732.6 955.3 L741.7 930.1 L747.1 945.2 L750.4 945.9 L755.5 962.0 L764.5 954.3 L769.6 933.4 L772.9 935.8 L783.0 912.3 L791.4 902.9 L796.5 908.2 L800.5 927.4 L805.5 919.7 L809.9 923.4 L814.3 919.7 L820.0 926.7 L827.7 931.8 L833.4 921.7 L836.8 920.7 L841.8 932.4 L845.9 924.0 L850.3 922.7 L854.3 926.7 L859.7 912.3 L864.4 912.3 L873.8 906.2 L878.2 914.6 L882.2 947.6 L888.9 956.0 L893.0 959.3 L896.3 957.0 L900.7 978.5 L905.0 955.3 L910.8 971.1 L914.1 976.8 L919.2 972.1 L922.5 981.8 L927.6 981.2 L931.9 996.3 L936.6 1000.7 L941.0 995.6 L945.4 1000.3 L954.5 955.0 L957.8 961.7 L962.9 950.9 L967.9 951.9 L972.3 950.9 L976.3 934.1 L981.3 930.8 L985.7 945.2 L990.4 946.9 L995.5 966.7 L999.8 956.0 L1004.9 952.6 L1009.2 966.0 L1014.0 982.9 L1017.3 1003.0 L1021.7 999.7 L1026.7 1005.4 L1030.8 941.5 L1035.1 956.0 L1040.2 950.3 L1046.2 944.9 L1050.3 945.9 L1054.3 955.0 L1057.6 952.6 L1063.0 963.4 L1070.4 944.2 L1077.8 930.1 L1083.9 928.1 L1089.9 922.4 L1096.6 920.7 L1103.4 912.3 L1112.4 924.7 L1122.5 916.6 L1126.6 917.3 L1130.9 897.8 L1139.3 894.8 L1146.0 891.4 L1154.5 887.7 L1161.8 911.3 L1166.2 911.6 L1171.3 921.3 L1175.3 904.5 L1188.1 908.9 L1194.8 903.9 L1199.8 900.5 L1204.2 901.5 L1208.2 909.9 L1212.3 899.5 L1216.6 899.5 L1221.7 894.5 L1226.7 897.8 L1230.1 896.5 L1234.5 915.6 L1239.2 896.5 L1243.4 909.0 L1248.5 910.3 L1252.3 913.4 L1261.7 893.9 L1266.1 893.5 L1271.2 885.0 L1279.7 879.3 L1284.4 877.8 L1293.3 868.4 L1297.7 890.1 L1302.4 888.2 L1306.6 883.1 L1311.5 881.2 L1315.6 891.4 L1320.4 888.2 L1324.7 901.4 L1328.9 896.3 L1333.6 888.2 L1338.3 891.4 L1343.0 888.2 L1347.4 889.5 L1351.6 878.8 L1356.3 878.2 L1361.9 874.4 L1365.7 876.9 L1370.5 886.3 L1374.6 882.5 L1379.9 906.2 L1383.7 943.0 L1388.4 916.6 L1392.8 928.5 L1397.9 917.9 L1402.2 916.0 L1406.8 907.1 L1411.1 915.6 L1415.8 901.4 L1423.4 898.6 L1428.7 905.2 L1433.2 905.8 L1437.6 916.0 L1446.5 930.4 L1451.4 907.7 L1455.5 915.3 L1460.3 909.6 L1464.6 910.0 L1469.7 903.9 L1474.1 917.5 L1478.6 925.5 L1483.5 921.9 L1487.7 909.6 L1492.4 917.1 L1500.9 908.4 L1506.2 904.7 L1510.8 893.9 L1514.2 894.5 L1519.5 878.8 L1528.3 882.0 L1533.1 875.9 L1541.6 868.7 L1546.3 883.1 L1550.1 882.5" fill="none" stroke="#a0a0a0" stroke-width="1.2" clip-path="url(#rsiMid)"/>
<path d="M86.7 905.8 L95.8 895.7 L100.8 883.9 L109.2 884.6 L113.6 863.7 L118.3 861.4 L122.7 871.5 L127.7 875.5 L131.8 884.9 L137.8 881.6 L142.9 880.5 L146.2 878.2 L150.6 887.3 L154.6 888.3 L161.3 878.9 L168.1 870.5 L174.8 865.4 L177.5 865.4 L181.5 856.3 L186.6 883.9 L191.6 877.2 L199.3 868.8 L205.0 902.4 L213.4 934.3 L218.5 920.9 L223.5 922.6 L226.9 952.8 L231.9 960.5 L235.3 946.1 L240.3 944.4 L244.7 956.2 L249.4 927.6 L255.5 949.5 L262.2 978.0 L267.2 978.0 L272.3 983.1 L276.3 951.1 L285.0 947.8 L290.8 932.6 L295.8 927.6 L299.8 915.2 L305.9 910.8 L309.2 906.4 L316.0 905.1 L322.7 914.2 L326.0 906.4 L331.1 910.8 L336.1 910.8 L339.5 920.9 L347.9 910.8 L352.3 934.3 L361.3 942.1 L366.4 961.2 L371.4 942.7 L374.8 939.4 L383.2 924.2 L389.9 915.2 L394.0 905.8 L401.7 904.1 L406.7 895.0 L411.8 899.0 L420.2 894.0 L426.9 895.7 L433.6 895.7 L437.0 899.0 L443.7 910.8 L452.1 907.4 L456.5 915.8 L458.8 905.8 L462.2 919.2 L470.6 903.0 L480.7 897.4 L484.7 889.0 L489.1 905.8 L494.1 902.4 L502.5 896.7 L510.9 904.1 L516.0 920.9 L522.7 921.9 L531.1 915.2 L534.5 910.8 L539.5 924.2 L543.9 954.5 L547.9 949.5 L552.9 951.1 L561.3 899.0 L571.4 891.6 L578.2 895.7 L583.2 895.0 L591.6 929.3 L601.7 921.9 L615.1 914.2 L620.0 902.2 L625.0 897.8 L629.4 907.2 L635.1 898.8 L641.8 895.5 L647.6 889.7 L651.9 893.1 L656.3 892.1 L660.3 907.2 L665.4 911.3 L669.7 902.2 L674.5 914.0 L678.8 917.3 L683.2 891.1 L687.2 900.5 L692.3 953.6 L696.6 952.6 L710.1 915.6 L714.1 917.3 L723.5 949.2 L732.6 955.3 L741.7 930.1 L747.1 945.2 L750.4 945.9 L755.5 962.0 L764.5 954.3 L769.6 933.4 L772.9 935.8 L783.0 912.3 L791.4 902.9 L796.5 908.2 L800.5 927.4 L805.5 919.7 L809.9 923.4 L814.3 919.7 L820.0 926.7 L827.7 931.8 L833.4 921.7 L836.8 920.7 L841.8 932.4 L845.9 924.0 L850.3 922.7 L854.3 926.7 L859.7 912.3 L864.4 912.3 L873.8 906.2 L878.2 914.6 L882.2 947.6 L888.9 956.0 L893.0 959.3 L896.3 957.0 L900.7 978.5 L905.0 955.3 L910.8 971.1 L914.1 976.8 L919.2 972.1 L922.5 981.8 L927.6 981.2 L931.9 996.3 L936.6 1000.7 L941.0 995.6 L945.4 1000.3 L954.5 955.0 L957.8 961.7 L962.9 950.9 L967.9 951.9 L972.3 950.9 L976.3 934.1 L981.3 930.8 L985.7 945.2 L990.4 946.9 L995.5 966.7 L999.8 956.0 L1004.9 952.6 L1009.2 966.0 L1014.0 982.9 L1017.3 1003.0 L1021.7 999.7 L1026.7 1005.4 L1030.8 941.5 L1035.1 956.0 L1040.2 950.3 L1046.2 944.9 L1050.3 945.9 L1054.3 955.0 L1057.6 952.6 L1063.0 963.4 L1070.4 944.2 L1077.8 930.1 L1083.9 928.1 L1089.9 922.4 L1096.6 920.7 L1103.4 912.3 L1112.4 924.7 L1122.5 916.6 L1126.6 917.3 L1130.9 897.8 L1139.3 894.8 L1146.0 891.4 L1154.5 887.7 L1161.8 911.3 L1166.2 911.6 L1171.3 921.3 L1175.3 904.5 L1188.1 908.9 L1194.8 903.9 L1199.8 900.5 L1204.2 901.5 L1208.2 909.9 L1212.3 899.5 L1216.6 899.5 L1221.7 894.5 L1226.7 897.8 L1230.1 896.5 L1234.5 915.6 L1239.2 896.5 L1243.4 909.0 L1248.5 910.3 L1252.3 913.4 L1261.7 893.9 L1266.1 893.5 L1271.2 885.0 L1279.7 879.3 L1284.4 877.8 L1293.3 868.4 L1297.7 890.1 L1302.4 888.2 L1306.6 883.1 L1311.5 881.2 L1315.6 891.4 L1320.4 888.2 L1324.7 901.4 L1328.9 896.3 L1333.6 888.2 L1338.3 891.4 L1343.0 888.2 L1347.4 889.5 L1351.6 878.8 L1356.3 878.2 L1361.9 874.4 L1365.7 876.9 L1370.5 886.3 L1374.6 882.5 L1379.9 906.2 L1383.7 943.0 L1388.4 916.6 L1392.8 928.5 L1397.9 917.9 L1402.2 916.0 L1406.8 907.1 L1411.1 915.6 L1415.8 901.4 L1423.4 898.6 L1428.7 905.2 L1433.2 905.8 L1437.6 916.0 L1446.5 930.4 L1451.4 907.7 L1455.5 915.3 L1460.3 909.6 L1464.6 910.0 L1469.7 903.9 L1474.1 917.5 L1478.6 925.5 L1483.5 921.9 L1487.7 909.6 L1492.4 917.1 L1500.9 908.4 L1506.2 904.7 L1510.8 893.9 L1514.2 894.5 L1519.5 878.8 L1528.3 882.0 L1533.1 875.9 L1541.6 868.7 L1546.3 883.1 L1550.1 882.5" fill="none" stroke="#f07020" stroke-width="1.4" clip-path="url(#rsiHi)"/>
<path d="M86.7 905.8 L95.8 895.7 L100.8 883.9 L109.2 884.6 L113.6 863.7 L118.3 861.4 L122.7 871.5 L127.7 875.5 L131.8 884.9 L137.8 881.6 L142.9 880.5 L146.2 878.2 L150.6 887.3 L154.6 888.3 L161.3 878.9 L168.1 870.5 L174.8 865.4 L177.5 865.4 L181.5 856.3 L186.6 883.9 L191.6 877.2 L199.3 868.8 L205.0 902.4 L213.4 934.3 L218.5 920.9 L223.5 922.6 L226.9 952.8 L231.9 960.5 L235.3 946.1 L240.3 944.4 L244.7 956.2 L249.4 927.6 L255.5 949.5 L262.2 978.0 L267.2 978.0 L272.3 983.1 L276.3 951.1 L285.0 947.8 L290.8 932.6 L295.8 927.6 L299.8 915.2 L305.9 910.8 L309.2 906.4 L316.0 905.1 L322.7 914.2 L326.0 906.4 L331.1 910.8 L336.1 910.8 L339.5 920.9 L347.9 910.8 L352.3 934.3 L361.3 942.1 L366.4 961.2 L371.4 942.7 L374.8 939.4 L383.2 924.2 L389.9 915.2 L394.0 905.8 L401.7 904.1 L406.7 895.0 L411.8 899.0 L420.2 894.0 L426.9 895.7 L433.6 895.7 L437.0 899.0 L443.7 910.8 L452.1 907.4 L456.5 915.8 L458.8 905.8 L462.2 919.2 L470.6 903.0 L480.7 897.4 L484.7 889.0 L489.1 905.8 L494.1 902.4 L502.5 896.7 L510.9 904.1 L516.0 920.9 L522.7 921.9 L531.1 915.2 L534.5 910.8 L539.5 924.2 L543.9 954.5 L547.9 949.5 L552.9 951.1 L561.3 899.0 L571.4 891.6 L578.2 895.7 L583.2 895.0 L591.6 929.3 L601.7 921.9 L615.1 914.2 L620.0 902.2 L625.0 897.8 L629.4 907.2 L635.1 898.8 L641.8 895.5 L647.6 889.7 L651.9 893.1 L656.3 892.1 L660.3 907.2 L665.4 911.3 L669.7 902.2 L674.5 914.0 L678.8 917.3 L683.2 891.1 L687.2 900.5 L692.3 953.6 L696.6 952.6 L710.1 915.6 L714.1 917.3 L723.5 949.2 L732.6 955.3 L741.7 930.1 L747.1 945.2 L750.4 945.9 L755.5 962.0 L764.5 954.3 L769.6 933.4 L772.9 935.8 L783.0 912.3 L791.4 902.9 L796.5 908.2 L800.5 927.4 L805.5 919.7 L809.9 923.4 L814.3 919.7 L820.0 926.7 L827.7 931.8 L833.4 921.7 L836.8 920.7 L841.8 932.4 L845.9 924.0 L850.3 922.7 L854.3 926.7 L859.7 912.3 L864.4 912.3 L873.8 906.2 L878.2 914.6 L882.2 947.6 L888.9 956.0 L893.0 959.3 L896.3 957.0 L900.7 978.5 L905.0 955.3 L910.8 971.1 L914.1 976.8 L919.2 972.1 L922.5 981.8 L927.6 981.2 L931.9 996.3 L936.6 1000.7 L941.0 995.6 L945.4 1000.3 L954.5 955.0 L957.8 961.7 L962.9 950.9 L967.9 951.9 L972.3 950.9 L976.3 934.1 L981.3 930.8 L985.7 945.2 L990.4 946.9 L995.5 966.7 L999.8 956.0 L1004.9 952.6 L1009.2 966.0 L1014.0 982.9 L1017.3 1003.0 L1021.7 999.7 L1026.7 1005.4 L1030.8 941.5 L1035.1 956.0 L1040.2 950.3 L1046.2 944.9 L1050.3 945.9 L1054.3 955.0 L1057.6 952.6 L1063.0 963.4 L1070.4 944.2 L1077.8 930.1 L1083.9 928.1 L1089.9 922.4 L1096.6 920.7 L1103.4 912.3 L1112.4 924.7 L1122.5 916.6 L1126.6 917.3 L1130.9 897.8 L1139.3 894.8 L1146.0 891.4 L1154.5 887.7 L1161.8 911.3 L1166.2 911.6 L1171.3 921.3 L1175.3 904.5 L1188.1 908.9 L1194.8 903.9 L1199.8 900.5 L1204.2 901.5 L1208.2 909.9 L1212.3 899.5 L1216.6 899.5 L1221.7 894.5 L1226.7 897.8 L1230.1 896.5 L1234.5 915.6 L1239.2 896.5 L1243.4 909.0 L1248.5 910.3 L1252.3 913.4 L1261.7 893.9 L1266.1 893.5 L1271.2 885.0 L1279.7 879.3 L1284.4 877.8 L1293.3 868.4 L1297.7 890.1 L1302.4 888.2 L1306.6 883.1 L1311.5 881.2 L1315.6 891.4 L1320.4 888.2 L1324.7 901.4 L1328.9 896.3 L1333.6 888.2 L1338.3 891.4 L1343.0 888.2 L1347.4 889.5 L1351.6 878.8 L1356.3 878.2 L1361.9 874.4 L1365.7 876.9 L1370.5 886.3 L1374.6 882.5 L1379.9 906.2 L1383.7 943.0 L1388.4 916.6 L1392.8 928.5 L1397.9 917.9 L1402.2 916.0 L1406.8 907.1 L1411.1 915.6 L1415.8 901.4 L1423.4 898.6 L1428.7 905.2 L1433.2 905.8 L1437.6 916.0 L1446.5 930.4 L1451.4 907.7 L1455.5 915.3 L1460.3 909.6 L1464.6 910.0 L1469.7 903.9 L1474.1 917.5 L1478.6 925.5 L1483.5 921.9 L1487.7 909.6 L1492.4 917.1 L1500.9 908.4 L1506.2 904.7 L1510.8 893.9 L1514.2 894.5 L1519.5 878.8 L1528.3 882.0 L1533.1 875.9 L1541.6 868.7 L1546.3 883.1 L1550.1 882.5" fill="none" stroke="#20c0d0" stroke-width="1.4" clip-path="url(#rsiLo)"/>
</g>
<text x="84" y="866.9" font-size="18" fill="#d2d2d2" text-anchor="end" >80</text>
<text x="1784.5" y="866.9" font-size="18" fill="#d2d2d2" >80</text>
<line x1="82.5" y1="860.4" x2="86.5" y2="860.4" stroke="#8a8a8a" stroke-width="1" />
<line x1="1781.5" y1="860.4" x2="1785" y2="860.4" stroke="#8a8a8a" stroke-width="1" />
<text x="84" y="917.3" font-size="18" fill="#d2d2d2" text-anchor="end" >60</text>
<text x="1784.5" y="917.3" font-size="18" fill="#d2d2d2" >60</text>
<line x1="82.5" y1="910.8" x2="86.5" y2="910.8" stroke="#8a8a8a" stroke-width="1" />
<line x1="1781.5" y1="910.8" x2="1785" y2="910.8" stroke="#8a8a8a" stroke-width="1" />
<text x="84" y="967.0" font-size="18" fill="#d2d2d2" text-anchor="end" >40</text>
<text x="1784.5" y="967.0" font-size="18" fill="#d2d2d2" >40</text>
<line x1="82.5" y1="960.5" x2="86.5" y2="960.5" stroke="#8a8a8a" stroke-width="1" />
<line x1="1781.5" y1="960.5" x2="1785" y2="960.5" stroke="#8a8a8a" stroke-width="1" />
<clipPath id="c20"><rect x="0" y="995" width="1904" height="14"/></clipPath>
<text x="84" y="1016.5" font-size="18" fill="#d2d2d2" text-anchor="end" clip-path="url(#c20)">20</text>
<text x="1784.5" y="1016.5" font-size="18" fill="#d2d2d2" clip-path="url(#c20)">20</text>
<rect x="1784.8" y="870" width="71" height="22.5" rx="3" fill="#f26d21"/>
<text x="1787.8" y="887.75" font-size="18" fill="#000" >70.9901</text>
<rect x="1784.8" y="972.5" width="26" height="22.5" rx="3" fill="#ffeeaa"/>
<text x="1787.8" y="990.25" font-size="18" fill="#000" >30</text>
<path d="M152.5 611 V617 M152.5 653 V659 M152.5 808 V814 M152.5 850 V856 M251.5 611 V617 M251.5 653 V659 M251.5 808 V814 M251.5 850 V856 M351.5 611 V617 M351.5 653 V659 M351.5 808 V814 M351.5 850 V856 M441.5 611 V617 M441.5 653 V659 M441.5 808 V814 M441.5 850 V856 M545.5 611 V617 M545.5 653 V659 M545.5 808 V814 M545.5 850 V856 M635.5 611 V617 M635.5 653 V659 M635.5 808 V814 M635.5 850 V856 M730.5 611 V617 M730.5 653 V659 M730.5 808 V814 M730.5 850 V856 M821.5 611 V617 M821.5 653 V659 M821.5 808 V814 M821.5 850 V856 M906.5 611 V617 M906.5 653 V659 M906.5 808 V814 M906.5 850 V856 M1002.5 611 V617 M1002.5 653 V659 M1002.5 808 V814 M1002.5 850 V856 M1096.5 611 V617 M1096.5 653 V659 M1096.5 808 V814 M1096.5 850 V856 M1191.5 611 V617 M1191.5 653 V659 M1191.5 808 V814 M1191.5 850 V856 M1281.5 611 V617 M1281.5 653 V659 M1281.5 808 V814 M1281.5 850 V856 M1381.5 611 V617 M1381.5 653 V659 M1381.5 808 V814 M1381.5 850 V856 M1476.5 611 V617 M1476.5 653 V659 M1476.5 808 V814 M1476.5 850 V856 M1571.5 611 V617 M1571.5 653 V659 M1571.5 808 V814 M1571.5 850 V856 M1675.5 611 V617 M1675.5 653 V659 M1675.5 808 V814 M1675.5 850 V856 M1765.5 611 V617 M1765.5 653 V659 M1765.5 808 V814 M1765.5 850 V856" stroke="#7a7a7a" stroke-width="1"/>
<text x="90" y="644.6" font-size="18" fill="#ffffff" textLength="64" lengthAdjust="spacingAndGlyphs" >Volume</text>
<text x="164" y="644.6" font-size="18" fill="#b4b4b4" textLength="53.5" lengthAdjust="spacingAndGlyphs" >88,958</text>
<text x="227" y="644.6" font-size="18" fill="#10dcec" textLength="279" lengthAdjust="spacingAndGlyphs" >VolumeWeightedMACD (12, 26, 9)</text>
<text x="515.3" y="644.6" font-size="18" fill="#10dcec" textLength="53.7" lengthAdjust="spacingAndGlyphs" >98.075</text>
<text x="578.8" y="644.6" font-size="18" fill="#e8dcb0" textLength="66" lengthAdjust="spacingAndGlyphs" >69.0593</text>
<text x="653.6" y="644.6" font-size="18" fill="#33e033" textLength="63.6" lengthAdjust="spacingAndGlyphs" >29.0157</text>
<text x="727.6" y="644.6" font-size="18" fill="#f060f0" >0</text>
<text x="746.5" y="644.6" font-size="18" fill="#10dcec" textLength="108.8" lengthAdjust="spacingAndGlyphs" >OpenInterest</text>
<text x="866.3" y="644.6" font-size="18" fill="#10dcec" textLength="75.7" lengthAdjust="spacingAndGlyphs" >1,940,412</text>
<line x1="87.5" y1="624" x2="87.5" y2="652.5" stroke="#4d4d4d" stroke-width="1.2" />
<line x1="160.7" y1="624" x2="160.7" y2="652.5" stroke="#4d4d4d" stroke-width="1.2" />
<line x1="223.5" y1="624" x2="223.5" y2="652.5" stroke="#4d4d4d" stroke-width="1.2" />
<line x1="510.9" y1="624" x2="510.9" y2="652.5" stroke="#4d4d4d" stroke-width="1.2" />
<line x1="574.8" y1="624" x2="574.8" y2="652.5" stroke="#4d4d4d" stroke-width="1.2" />
<line x1="649.5" y1="624" x2="649.5" y2="652.5" stroke="#4d4d4d" stroke-width="1.2" />
<line x1="723.5" y1="624" x2="723.5" y2="652.5" stroke="#4d4d4d" stroke-width="1.2" />
<line x1="742.5" y1="624" x2="742.5" y2="652.5" stroke="#4d4d4d" stroke-width="1.2" />
<line x1="861.6" y1="624" x2="861.6" y2="652.5" stroke="#4d4d4d" stroke-width="1.2" />
<line x1="948.3" y1="624" x2="948.3" y2="652.5" stroke="#4d4d4d" stroke-width="1.2" />
<text x="90.8" y="841.2" font-size="18" fill="#f07020" textLength="295.8" lengthAdjust="spacingAndGlyphs" >RSI (14, 70, 30, CLOSE, WILDERS, no)</text>
<text x="396.6" y="841.2" font-size="18" fill="#f07020" textLength="53.8" lengthAdjust="spacingAndGlyphs" >71.009</text>
<text x="459.8" y="841.2" font-size="18" fill="#f0e6b0" textLength="20.2" lengthAdjust="spacingAndGlyphs" >30</text>
<text x="489" y="841.2" font-size="18" fill="#f0e6b0" textLength="19.6" lengthAdjust="spacingAndGlyphs" >70</text>
<line x1="87.5" y1="820.5" x2="87.5" y2="849.5" stroke="#4d4d4d" stroke-width="1.2" />
<line x1="392.3" y1="820.5" x2="392.3" y2="849.5" stroke="#4d4d4d" stroke-width="1.2" />
<line x1="456.1" y1="820.5" x2="456.1" y2="849.5" stroke="#4d4d4d" stroke-width="1.2" />
<line x1="485" y1="820.5" x2="485" y2="849.5" stroke="#4d4d4d" stroke-width="1.2" />
<line x1="514.3" y1="820.5" x2="514.3" y2="849.5" stroke="#4d4d4d" stroke-width="1.2" />
<text x="152.3" y="1032" font-size="18" fill="#d2d2d2" >Jul</text>
<text x="251.4" y="1032" font-size="18" fill="#d2d2d2" >Aug</text>
<text x="351.4" y="1032" font-size="18" fill="#d2d2d2" >Sep</text>
<text x="441.4" y="1032" font-size="18" fill="#d2d2d2" >Oct</text>
<text x="545.5" y="1032" font-size="18" fill="#d2d2d2" >Nov</text>
<text x="635.5" y="1032" font-size="18" fill="#d2d2d2" >Dec</text>
<text x="730.3" y="1032" font-size="18" fill="#d2d2d2" >25</text>
<text x="821.6" y="1032" font-size="18" fill="#d2d2d2" >Feb</text>
<text x="906.8" y="1032" font-size="18" fill="#d2d2d2" >Mar</text>
<text x="1002" y="1032" font-size="18" fill="#d2d2d2" >Apr</text>
<text x="1096.2" y="1032" font-size="18" fill="#d2d2d2" >May</text>
<text x="1191.2" y="1032" font-size="18" fill="#d2d2d2" >Jun</text>
<text x="1281.6" y="1032" font-size="18" fill="#d2d2d2" >Jul</text>
<text x="1381.3" y="1032" font-size="18" fill="#d2d2d2" >Aug</text>
<text x="1476.6" y="1032" font-size="18" fill="#d2d2d2" >Sep</text>
<text x="1571.5" y="1032" font-size="18" fill="#d2d2d2" >Oct</text>
<text x="1675.6" y="1032" font-size="18" fill="#d2d2d2" >Nov</text>
<text x="1765.9" y="1032" font-size="18" fill="#d2d2d2" >Dec</text>
<rect x="0" y="1043" width="1875" height="21" fill="#0e0e0e" />
<path d="M4 1054 L9 1049 L9 1059 Z" fill="#777"/>
<rect x="116.5" y="1043.5" width="50" height="21" fill="#3a3a3a" stroke="#5a5a5a" stroke-width="1"/>
<path d="M134 1052.5 h12" stroke="#f0f0f0" stroke-width="2"/><path d="M135 1064 L140.5 1057 L146 1064 Z" fill="#f0f0f0"/>
<rect x="1373" y="1043" width="50" height="21" fill="#3a3a3a" />
<path d="M1397 1049 v9 M1400 1049 v9 M1403 1049 v9" stroke="#aaa" stroke-width="1"/>
<path d="M1481 1050 L1477 1054 L1481 1058 Z M1501 1050 L1505 1054 L1501 1058 Z" fill="#888"/>
<rect x="1512" y="1043" width="170" height="21" fill="#000" />
<circle cx="1527" cy="1052" r="7" fill="none" stroke="#e8e8e8" stroke-width="1.8"/><path d="M1523.5 1052 h7 M1532 1057 l5 5" stroke="#e8e8e8" stroke-width="1.8"/>
<circle cx="1559" cy="1052" r="7" fill="none" stroke="#e8e8e8" stroke-width="1.8"/><path d="M1555.5 1052 h7 M1559 1048.5 v7 M1564 1057 l5 5" stroke="#e8e8e8" stroke-width="1.8"/>
<path d="M1581 1054 L1586 1049 L1586 1059 Z M1605 1054 L1600 1049 L1600 1059 Z" fill="#e8e8e8"/><path d="M1589 1049 v10 M1592 1049 v10 M1595 1049 v10" stroke="#e8e8e8" stroke-width="1.5"/>
<circle cx="1624" cy="1054" r="7" fill="none" stroke="#e8e8e8" stroke-width="1.6"/><path d="M1624 1045 v18 M1615 1054 h18" stroke="#e8e8e8" stroke-width="1.6"/>
<path d="M1646 1045 L1646 1062 L1650 1058 L1653 1064 L1656 1063 L1653 1057 L1658 1057 Z" fill="#e8e8e8"/>
<text x="1688" y="1061" font-size="18" fill="#e8e8e8" textLength="171" lengthAdjust="spacingAndGlyphs" >Drawing set: Default</text>
<path d="M1862 1064 L1867 1059 L1867 1064 Z" fill="#cfcfcf"/>
<rect x="813.5" y="7.5" width="374" height="44" rx="10" fill="#ffffff" stroke="#000" stroke-width="1.5"/>
<text x="834.7" y="36.8" font-size="20.5" fill="#000" textLength="332.4" lengthAdjust="spacingAndGlyphs" stroke="#000" stroke-width="0.3">Wednesday, September 24th 2025</text>
<rect x="716" y="99" width="585.5" height="154.5" rx="12" fill="#ffffff" stroke="#000" stroke-width="1.5"/>
<text x="718.1" y="124.6" font-size="19.5" fill="#000" stroke="#000" stroke-width="0.35" textLength="581.1" lengthAdjust="spacing" xml:space="preserve">On the surface, from a technical point of view, the market still</text>
<text x="737" y="147.2" font-size="19.5" fill="#000" stroke="#000" stroke-width="0.35" textLength="541.2" lengthAdjust="spacing" xml:space="preserve">looks bullish, but very overbought.  So trying to predict the</text>
<text x="740.6" y="169.8" font-size="19.5" fill="#000" stroke="#000" stroke-width="0.35" textLength="535" lengthAdjust="spacing" xml:space="preserve">day of the top is not easy when charts look like this.  I can</text>
<text x="731.5" y="192.4" font-size="19.5" fill="#000" stroke="#000" stroke-width="0.35" textLength="552.2" lengthAdjust="spacing" xml:space="preserve">only say that this week and into the end of the month needs</text>
<text x="745.7" y="215.0" font-size="19.5" fill="#000" stroke="#000" stroke-width="0.35" textLength="525.7" lengthAdjust="spacing" xml:space="preserve">to hold for bulls as if support breaks below it's a waterfall</text>
<text x="772.8" y="237.6" font-size="19.5" fill="#000" stroke="#000" stroke-width="0.35" textLength="471.7" lengthAdjust="spacing" xml:space="preserve">decline.  This excludes a Biblical event of course.</text>
<path d="M1540.5 187.5 h96 a4.5 4.5 0 0 1 4.5 4.5 v19.3 a4.5 4.5 0 0 1 -4.5 4.5 h-87 l-7.5 8 l2.5 -8 h-4 a4.5 4.5 0 0 1 -4.5 -4.5 v-19.3 a4.5 4.5 0 0 1 4.5 -4.5 Z" fill="#f6f6f6" stroke="#222" stroke-width="0.6"/>
<text x="1542.2" y="210.3" font-size="18" fill="#000" textLength="92.2" lengthAdjust="spacingAndGlyphs" >Hi: 6756.75</text>
</svg>
</body></html>
